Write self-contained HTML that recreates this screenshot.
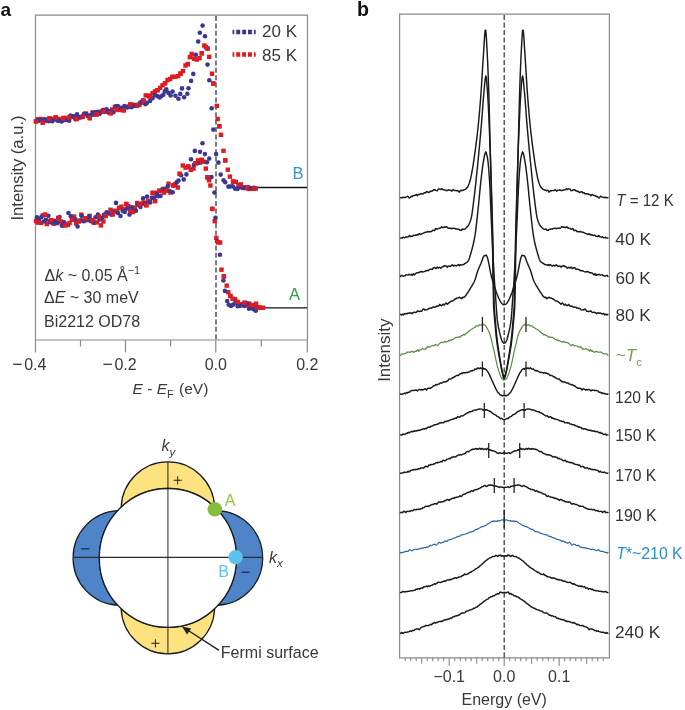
<!DOCTYPE html>
<html><head><meta charset="utf-8"><style>
html,body{margin:0;padding:0;background:#fff;}
body{width:685px;height:710px;overflow:hidden;}
svg{display:block;font-family:"Liberation Sans", sans-serif;}
</style></head><body>
<svg width="685" height="710" viewBox="0 0 685 710">
<path d="M35.5 15.2H307.5V340H35.5Z" fill="none" stroke="#8a8a8a" stroke-width="1.2"/>
<line x1="35.5" y1="340" x2="35.5" y2="352.5" stroke="#8a8a8a" stroke-width="1.2"/>
<line x1="125.5" y1="340" x2="125.5" y2="352.5" stroke="#8a8a8a" stroke-width="1.2"/>
<line x1="215.8" y1="340" x2="215.8" y2="352.5" stroke="#8a8a8a" stroke-width="1.2"/>
<line x1="307.3" y1="340" x2="307.3" y2="352.5" stroke="#8a8a8a" stroke-width="1.2"/>
<line x1="80.5" y1="340" x2="80.5" y2="346.5" stroke="#8a8a8a" stroke-width="1.2"/>
<line x1="170.6" y1="340" x2="170.6" y2="346.5" stroke="#8a8a8a" stroke-width="1.2"/>
<line x1="261.3" y1="340" x2="261.3" y2="346.5" stroke="#8a8a8a" stroke-width="1.2"/>
<line x1="216" y1="16" x2="216" y2="340" stroke="#3a3a3a" stroke-width="1.3" stroke-dasharray="5 2.4"/>
<line x1="254" y1="187.5" x2="307" y2="187.5" stroke="#111" stroke-width="1.3"/>
<line x1="262" y1="307.9" x2="307" y2="307.9" stroke="#111" stroke-width="1.3"/>
<g fill="#df1b22"><rect x="33.8" y="119.2" width="4.4" height="4.4"/><rect x="36.0" y="117.1" width="4.4" height="4.4"/><rect x="38.2" y="116.8" width="4.4" height="4.4"/><rect x="40.6" y="120.4" width="4.4" height="4.4"/><rect x="42.7" y="117.1" width="4.4" height="4.4"/><rect x="45.2" y="118.5" width="4.4" height="4.4"/><rect x="47.3" y="116.3" width="4.4" height="4.4"/><rect x="49.5" y="118.7" width="4.4" height="4.4"/><rect x="51.4" y="116.7" width="4.4" height="4.4"/><rect x="53.5" y="115.2" width="4.4" height="4.4"/><rect x="55.7" y="116.7" width="4.4" height="4.4"/><rect x="58.2" y="117.4" width="4.4" height="4.4"/><rect x="60.8" y="116.4" width="4.4" height="4.4"/><rect x="62.3" y="115.6" width="4.4" height="4.4"/><rect x="65.3" y="116.5" width="4.4" height="4.4"/><rect x="67.1" y="115.3" width="4.4" height="4.4"/><rect x="69.5" y="114.6" width="4.4" height="4.4"/><rect x="72.4" y="114.4" width="4.4" height="4.4"/><rect x="74.3" y="116.8" width="4.4" height="4.4"/><rect x="76.4" y="115.0" width="4.4" height="4.4"/><rect x="78.8" y="115.0" width="4.4" height="4.4"/><rect x="80.7" y="114.4" width="4.4" height="4.4"/><rect x="83.7" y="111.3" width="4.4" height="4.4"/><rect x="85.8" y="113.4" width="4.4" height="4.4"/><rect x="87.6" y="115.9" width="4.4" height="4.4"/><rect x="90.3" y="110.2" width="4.4" height="4.4"/><rect x="92.3" y="112.5" width="4.4" height="4.4"/><rect x="94.5" y="112.2" width="4.4" height="4.4"/><rect x="96.8" y="111.6" width="4.4" height="4.4"/><rect x="99.5" y="109.1" width="4.4" height="4.4"/><rect x="101.4" y="109.2" width="4.4" height="4.4"/><rect x="103.6" y="107.8" width="4.4" height="4.4"/><rect x="105.6" y="109.1" width="4.4" height="4.4"/><rect x="108.3" y="111.0" width="4.4" height="4.4"/><rect x="109.9" y="107.3" width="4.4" height="4.4"/><rect x="112.7" y="104.7" width="4.4" height="4.4"/><rect x="114.7" y="107.2" width="4.4" height="4.4"/><rect x="117.4" y="107.8" width="4.4" height="4.4"/><rect x="119.2" y="105.6" width="4.4" height="4.4"/><rect x="121.5" y="108.1" width="4.4" height="4.4"/><rect x="123.7" y="104.7" width="4.4" height="4.4"/><rect x="126.2" y="104.5" width="4.4" height="4.4"/><rect x="128.2" y="102.3" width="4.4" height="4.4"/><rect x="130.5" y="102.6" width="4.4" height="4.4"/><rect x="133.1" y="103.6" width="4.4" height="4.4"/><rect x="135.0" y="102.8" width="4.4" height="4.4"/><rect x="137.2" y="102.7" width="4.4" height="4.4"/><rect x="139.5" y="100.5" width="4.4" height="4.4"/><rect x="141.4" y="98.6" width="4.4" height="4.4"/><rect x="143.5" y="93.2" width="4.4" height="4.4"/><rect x="146.2" y="93.4" width="4.4" height="4.4"/><rect x="147.8" y="94.7" width="4.4" height="4.4"/><rect x="150.3" y="91.0" width="4.4" height="4.4"/><rect x="152.8" y="89.2" width="4.4" height="4.4"/><rect x="155.3" y="88.0" width="4.4" height="4.4"/><rect x="157.9" y="85.7" width="4.4" height="4.4"/><rect x="160.3" y="83.1" width="4.4" height="4.4"/><rect x="162.9" y="81.0" width="4.4" height="4.4"/><rect x="165.3" y="77.8" width="4.4" height="4.4"/><rect x="167.8" y="76.8" width="4.4" height="4.4"/><rect x="170.3" y="74.7" width="4.4" height="4.4"/><rect x="172.9" y="74.5" width="4.4" height="4.4"/><rect x="176.0" y="73.9" width="4.4" height="4.4"/><rect x="178.3" y="71.4" width="4.4" height="4.4"/><rect x="180.7" y="68.8" width="4.4" height="4.4"/><rect x="183.3" y="63.3" width="4.4" height="4.4"/><rect x="185.6" y="61.9" width="4.4" height="4.4"/><rect x="187.6" y="55.0" width="4.4" height="4.4"/><rect x="189.5" y="51.7" width="4.4" height="4.4"/><rect x="192.0" y="56.5" width="4.4" height="4.4"/><rect x="194.6" y="57.4" width="4.4" height="4.4"/><rect x="197.4" y="55.9" width="4.4" height="4.4"/><rect x="199.6" y="51.1" width="4.4" height="4.4"/><rect x="202.1" y="43.3" width="4.4" height="4.4"/><rect x="203.6" y="44.8" width="4.4" height="4.4"/><rect x="205.4" y="46.4" width="4.4" height="4.4"/><rect x="207.0" y="54.6" width="4.4" height="4.4"/><rect x="209.8" y="71.5" width="4.4" height="4.4"/><rect x="211.1" y="81.3" width="4.4" height="4.4"/><rect x="214.6" y="103.7" width="4.4" height="4.4"/><rect x="215.5" y="116.8" width="4.4" height="4.4"/><rect x="217.1" y="124.1" width="4.4" height="4.4"/><rect x="218.7" y="132.6" width="4.4" height="4.4"/><rect x="221.3" y="148.6" width="4.4" height="4.4"/><rect x="223.0" y="158.2" width="4.4" height="4.4"/><rect x="225.6" y="167.5" width="4.4" height="4.4"/><rect x="227.7" y="174.4" width="4.4" height="4.4"/><rect x="230.9" y="179.4" width="4.4" height="4.4"/><rect x="233.6" y="179.6" width="4.4" height="4.4"/><rect x="236.3" y="183.0" width="4.4" height="4.4"/><rect x="238.5" y="182.4" width="4.4" height="4.4"/><rect x="240.6" y="185.7" width="4.4" height="4.4"/><rect x="242.8" y="185.8" width="4.4" height="4.4"/><rect x="245.0" y="185.2" width="4.4" height="4.4"/><rect x="247.2" y="186.7" width="4.4" height="4.4"/><rect x="249.4" y="185.9" width="4.4" height="4.4"/><rect x="251.6" y="186.5" width="4.4" height="4.4"/><rect x="253.6" y="186.3" width="4.4" height="4.4"/><rect x="33.8" y="219.0" width="4.4" height="4.4"/><rect x="36.0" y="220.2" width="4.4" height="4.4"/><rect x="38.9" y="220.6" width="4.4" height="4.4"/><rect x="40.6" y="213.2" width="4.4" height="4.4"/><rect x="42.9" y="212.5" width="4.4" height="4.4"/><rect x="44.6" y="221.9" width="4.4" height="4.4"/><rect x="47.5" y="218.7" width="4.4" height="4.4"/><rect x="49.0" y="218.1" width="4.4" height="4.4"/><rect x="51.6" y="221.5" width="4.4" height="4.4"/><rect x="54.7" y="220.3" width="4.4" height="4.4"/><rect x="56.1" y="215.8" width="4.4" height="4.4"/><rect x="58.5" y="219.2" width="4.4" height="4.4"/><rect x="60.5" y="220.0" width="4.4" height="4.4"/><rect x="62.7" y="223.1" width="4.4" height="4.4"/><rect x="65.6" y="222.8" width="4.4" height="4.4"/><rect x="67.4" y="220.8" width="4.4" height="4.4"/><rect x="69.8" y="217.6" width="4.4" height="4.4"/><rect x="71.9" y="214.4" width="4.4" height="4.4"/><rect x="73.9" y="221.2" width="4.4" height="4.4"/><rect x="76.5" y="219.1" width="4.4" height="4.4"/><rect x="79.1" y="212.4" width="4.4" height="4.4"/><rect x="80.8" y="218.4" width="4.4" height="4.4"/><rect x="83.4" y="216.2" width="4.4" height="4.4"/><rect x="85.9" y="217.8" width="4.4" height="4.4"/><rect x="87.4" y="213.7" width="4.4" height="4.4"/><rect x="90.3" y="218.0" width="4.4" height="4.4"/><rect x="91.7" y="220.6" width="4.4" height="4.4"/><rect x="94.7" y="220.2" width="4.4" height="4.4"/><rect x="96.7" y="214.5" width="4.4" height="4.4"/><rect x="98.7" y="223.2" width="4.4" height="4.4"/><rect x="101.2" y="219.3" width="4.4" height="4.4"/><rect x="103.4" y="213.8" width="4.4" height="4.4"/><rect x="105.3" y="211.2" width="4.4" height="4.4"/><rect x="108.3" y="207.6" width="4.4" height="4.4"/><rect x="110.6" y="212.0" width="4.4" height="4.4"/><rect x="112.2" y="208.5" width="4.4" height="4.4"/><rect x="114.7" y="209.2" width="4.4" height="4.4"/><rect x="116.9" y="205.8" width="4.4" height="4.4"/><rect x="119.2" y="204.5" width="4.4" height="4.4"/><rect x="121.2" y="207.2" width="4.4" height="4.4"/><rect x="124.1" y="201.8" width="4.4" height="4.4"/><rect x="126.1" y="204.1" width="4.4" height="4.4"/><rect x="128.0" y="208.4" width="4.4" height="4.4"/><rect x="130.4" y="209.8" width="4.4" height="4.4"/><rect x="132.6" y="205.3" width="4.4" height="4.4"/><rect x="135.0" y="200.8" width="4.4" height="4.4"/><rect x="137.5" y="202.0" width="4.4" height="4.4"/><rect x="139.7" y="201.4" width="4.4" height="4.4"/><rect x="141.5" y="200.4" width="4.4" height="4.4"/><rect x="144.1" y="203.0" width="4.4" height="4.4"/><rect x="146.0" y="198.8" width="4.4" height="4.4"/><rect x="148.0" y="200.0" width="4.4" height="4.4"/><rect x="150.5" y="190.7" width="4.4" height="4.4"/><rect x="153.0" y="199.0" width="4.4" height="4.4"/><rect x="154.8" y="190.5" width="4.4" height="4.4"/><rect x="157.3" y="188.6" width="4.4" height="4.4"/><rect x="159.9" y="187.7" width="4.4" height="4.4"/><rect x="161.8" y="190.4" width="4.4" height="4.4"/><rect x="164.1" y="188.3" width="4.4" height="4.4"/><rect x="166.3" y="181.5" width="4.4" height="4.4"/><rect x="168.2" y="190.3" width="4.4" height="4.4"/><rect x="171.0" y="183.4" width="4.4" height="4.4"/><rect x="173.3" y="181.7" width="4.4" height="4.4"/><rect x="175.6" y="185.3" width="4.4" height="4.4"/><rect x="177.5" y="171.7" width="4.4" height="4.4"/><rect x="180.6" y="163.3" width="4.4" height="4.4"/><rect x="183.3" y="165.4" width="4.4" height="4.4"/><rect x="186.0" y="164.4" width="4.4" height="4.4"/><rect x="188.5" y="167.7" width="4.4" height="4.4"/><rect x="191.3" y="166.4" width="4.4" height="4.4"/><rect x="193.2" y="161.0" width="4.4" height="4.4"/><rect x="195.8" y="158.2" width="4.4" height="4.4"/><rect x="197.8" y="160.4" width="4.4" height="4.4"/><rect x="199.6" y="157.7" width="4.4" height="4.4"/><rect x="201.8" y="159.5" width="4.4" height="4.4"/><rect x="203.6" y="166.4" width="4.4" height="4.4"/><rect x="205.2" y="175.1" width="4.4" height="4.4"/><rect x="206.8" y="178.1" width="4.4" height="4.4"/><rect x="208.2" y="183.3" width="4.4" height="4.4"/><rect x="210.1" y="206.7" width="4.4" height="4.4"/><rect x="212.5" y="219.0" width="4.4" height="4.4"/><rect x="214.1" y="235.7" width="4.4" height="4.4"/><rect x="215.9" y="240.0" width="4.4" height="4.4"/><rect x="218.0" y="240.3" width="4.4" height="4.4"/><rect x="219.3" y="267.5" width="4.4" height="4.4"/><rect x="221.7" y="274.2" width="4.4" height="4.4"/><rect x="224.5" y="283.4" width="4.4" height="4.4"/><rect x="226.1" y="290.0" width="4.4" height="4.4"/><rect x="228.2" y="293.8" width="4.4" height="4.4"/><rect x="230.4" y="296.6" width="4.4" height="4.4"/><rect x="232.9" y="297.1" width="4.4" height="4.4"/><rect x="235.3" y="299.8" width="4.4" height="4.4"/><rect x="237.7" y="301.9" width="4.4" height="4.4"/><rect x="240.1" y="302.2" width="4.4" height="4.4"/><rect x="242.4" y="300.6" width="4.4" height="4.4"/><rect x="244.7" y="303.1" width="4.4" height="4.4"/><rect x="247.0" y="301.4" width="4.4" height="4.4"/><rect x="249.3" y="302.9" width="4.4" height="4.4"/><rect x="251.6" y="303.8" width="4.4" height="4.4"/><rect x="253.9" y="301.5" width="4.4" height="4.4"/><rect x="256.2" y="305.1" width="4.4" height="4.4"/><rect x="258.5" y="305.6" width="4.4" height="4.4"/><rect x="260.8" y="305.6" width="4.4" height="4.4"/></g>
<g fill="#3b3793"><circle cx="37.4" cy="120.0" r="2.3"/><circle cx="39.3" cy="120.6" r="2.3"/><circle cx="41.4" cy="119.7" r="2.3"/><circle cx="43.9" cy="119.9" r="2.3"/><circle cx="46.0" cy="120.2" r="2.3"/><circle cx="48.6" cy="121.1" r="2.3"/><circle cx="50.6" cy="119.0" r="2.3"/><circle cx="52.3" cy="121.2" r="2.3"/><circle cx="55.3" cy="119.3" r="2.3"/><circle cx="57.4" cy="120.6" r="2.3"/><circle cx="59.7" cy="120.7" r="2.3"/><circle cx="61.6" cy="121.5" r="2.3"/><circle cx="63.6" cy="120.2" r="2.3"/><circle cx="66.4" cy="120.0" r="2.3"/><circle cx="69.1" cy="120.8" r="2.3"/><circle cx="70.4" cy="115.5" r="2.3"/><circle cx="73.2" cy="116.3" r="2.3"/><circle cx="75.2" cy="119.1" r="2.3"/><circle cx="77.0" cy="114.2" r="2.3"/><circle cx="79.8" cy="117.4" r="2.3"/><circle cx="81.9" cy="116.9" r="2.3"/><circle cx="84.0" cy="113.9" r="2.3"/><circle cx="86.5" cy="114.2" r="2.3"/><circle cx="88.3" cy="116.0" r="2.3"/><circle cx="91.0" cy="115.3" r="2.3"/><circle cx="93.0" cy="113.1" r="2.3"/><circle cx="95.2" cy="112.2" r="2.3"/><circle cx="97.8" cy="111.8" r="2.3"/><circle cx="100.1" cy="113.0" r="2.3"/><circle cx="102.9" cy="110.0" r="2.3"/><circle cx="104.8" cy="111.9" r="2.3"/><circle cx="106.7" cy="109.4" r="2.3"/><circle cx="108.9" cy="112.7" r="2.3"/><circle cx="111.2" cy="111.2" r="2.3"/><circle cx="113.4" cy="112.3" r="2.3"/><circle cx="115.7" cy="106.3" r="2.3"/><circle cx="117.8" cy="106.1" r="2.3"/><circle cx="119.3" cy="107.8" r="2.3"/><circle cx="122.9" cy="108.2" r="2.3"/><circle cx="124.4" cy="106.1" r="2.3"/><circle cx="127.3" cy="107.4" r="2.3"/><circle cx="129.3" cy="106.6" r="2.3"/><circle cx="131.5" cy="107.3" r="2.3"/><circle cx="133.9" cy="105.5" r="2.3"/><circle cx="135.7" cy="105.2" r="2.3"/><circle cx="138.0" cy="105.4" r="2.3"/><circle cx="140.1" cy="102.7" r="2.3"/><circle cx="142.7" cy="100.3" r="2.3"/><circle cx="145.5" cy="104.3" r="2.3"/><circle cx="147.1" cy="102.8" r="2.3"/><circle cx="149.6" cy="96.9" r="2.3"/><circle cx="150.1" cy="101.0" r="2.3"/><circle cx="152.5" cy="98.2" r="2.3"/><circle cx="154.8" cy="95.1" r="2.3"/><circle cx="157.2" cy="96.1" r="2.3"/><circle cx="159.6" cy="97.5" r="2.3"/><circle cx="161.2" cy="96.2" r="2.3"/><circle cx="163.3" cy="94.8" r="2.3"/><circle cx="164.8" cy="91.4" r="2.3"/><circle cx="166.3" cy="89.2" r="2.3"/><circle cx="168.6" cy="92.9" r="2.3"/><circle cx="170.6" cy="95.5" r="2.3"/><circle cx="172.6" cy="91.6" r="2.3"/><circle cx="175.4" cy="95.8" r="2.3"/><circle cx="178.4" cy="98.7" r="2.3"/><circle cx="180.2" cy="93.9" r="2.3"/><circle cx="182.0" cy="88.4" r="2.3"/><circle cx="184.1" cy="97.2" r="2.3"/><circle cx="187.3" cy="93.7" r="2.3"/><circle cx="188.5" cy="88.2" r="2.3"/><circle cx="191.1" cy="80.9" r="2.3"/><circle cx="193.3" cy="73.9" r="2.3"/><circle cx="195.9" cy="54.7" r="2.3"/><circle cx="198.2" cy="41.5" r="2.3"/><circle cx="199.8" cy="32.8" r="2.3"/><circle cx="202.6" cy="25.6" r="2.3"/><circle cx="205.0" cy="36.3" r="2.3"/><circle cx="207.5" cy="64.6" r="2.3"/><circle cx="209.3" cy="80.2" r="2.3"/><circle cx="211.7" cy="108.3" r="2.3"/><circle cx="213.3" cy="129.6" r="2.3"/><circle cx="216.1" cy="154.1" r="2.3"/><circle cx="218.4" cy="162.6" r="2.3"/><circle cx="220.7" cy="174.6" r="2.3"/><circle cx="223.6" cy="180.3" r="2.3"/><circle cx="225.2" cy="182.2" r="2.3"/><circle cx="228.4" cy="186.6" r="2.3"/><circle cx="230.3" cy="186.5" r="2.3"/><circle cx="232.7" cy="186.2" r="2.3"/><circle cx="235.0" cy="188.6" r="2.3"/><circle cx="237.4" cy="189.0" r="2.3"/><circle cx="239.8" cy="187.1" r="2.3"/><circle cx="242.1" cy="187.1" r="2.3"/><circle cx="244.5" cy="187.5" r="2.3"/><circle cx="246.9" cy="188.3" r="2.3"/><circle cx="249.2" cy="187.8" r="2.3"/><circle cx="251.6" cy="188.2" r="2.3"/><circle cx="254.1" cy="187.9" r="2.3"/><circle cx="36.9" cy="217.4" r="2.3"/><circle cx="39.2" cy="218.9" r="2.3"/><circle cx="41.5" cy="216.9" r="2.3"/><circle cx="43.8" cy="221.5" r="2.3"/><circle cx="46.0" cy="219.7" r="2.3"/><circle cx="48.4" cy="215.8" r="2.3"/><circle cx="50.6" cy="222.2" r="2.3"/><circle cx="52.8" cy="222.8" r="2.3"/><circle cx="54.8" cy="220.8" r="2.3"/><circle cx="57.4" cy="223.3" r="2.3"/><circle cx="59.6" cy="217.0" r="2.3"/><circle cx="61.9" cy="225.7" r="2.3"/><circle cx="64.3" cy="222.5" r="2.3"/><circle cx="65.8" cy="224.6" r="2.3"/><circle cx="68.5" cy="213.0" r="2.3"/><circle cx="70.9" cy="216.3" r="2.3"/><circle cx="72.6" cy="218.9" r="2.3"/><circle cx="75.6" cy="219.6" r="2.3"/><circle cx="77.6" cy="226.5" r="2.3"/><circle cx="80.2" cy="220.2" r="2.3"/><circle cx="81.9" cy="216.0" r="2.3"/><circle cx="84.0" cy="221.3" r="2.3"/><circle cx="86.6" cy="219.9" r="2.3"/><circle cx="89.0" cy="216.6" r="2.3"/><circle cx="91.0" cy="221.3" r="2.3"/><circle cx="93.4" cy="222.0" r="2.3"/><circle cx="95.6" cy="217.2" r="2.3"/><circle cx="97.9" cy="214.5" r="2.3"/><circle cx="99.5" cy="219.4" r="2.3"/><circle cx="102.2" cy="217.7" r="2.3"/><circle cx="104.0" cy="214.7" r="2.3"/><circle cx="106.6" cy="212.3" r="2.3"/><circle cx="108.3" cy="213.2" r="2.3"/><circle cx="111.5" cy="214.8" r="2.3"/><circle cx="113.3" cy="212.7" r="2.3"/><circle cx="116.0" cy="202.9" r="2.3"/><circle cx="118.0" cy="213.0" r="2.3"/><circle cx="120.5" cy="216.0" r="2.3"/><circle cx="122.8" cy="210.9" r="2.3"/><circle cx="124.8" cy="211.9" r="2.3"/><circle cx="126.8" cy="208.6" r="2.3"/><circle cx="129.5" cy="214.6" r="2.3"/><circle cx="131.5" cy="207.3" r="2.3"/><circle cx="133.8" cy="211.1" r="2.3"/><circle cx="136.0" cy="210.7" r="2.3"/><circle cx="138.0" cy="204.5" r="2.3"/><circle cx="140.4" cy="206.9" r="2.3"/><circle cx="143.1" cy="198.4" r="2.3"/><circle cx="144.7" cy="203.6" r="2.3"/><circle cx="147.1" cy="196.6" r="2.3"/><circle cx="149.8" cy="202.3" r="2.3"/><circle cx="151.9" cy="197.9" r="2.3"/><circle cx="154.3" cy="197.5" r="2.3"/><circle cx="156.6" cy="194.0" r="2.3"/><circle cx="158.2" cy="196.2" r="2.3"/><circle cx="160.5" cy="195.9" r="2.3"/><circle cx="163.1" cy="188.7" r="2.3"/><circle cx="165.3" cy="188.7" r="2.3"/><circle cx="167.8" cy="186.4" r="2.3"/><circle cx="169.6" cy="191.1" r="2.3"/><circle cx="172.7" cy="192.3" r="2.3"/><circle cx="174.3" cy="184.9" r="2.3"/><circle cx="177.0" cy="182.1" r="2.3"/><circle cx="178.5" cy="180.6" r="2.3"/><circle cx="181.1" cy="175.3" r="2.3"/><circle cx="183.7" cy="179.4" r="2.3"/><circle cx="186.4" cy="174.4" r="2.3"/><circle cx="188.6" cy="166.7" r="2.3"/><circle cx="191.0" cy="159.2" r="2.3"/><circle cx="193.9" cy="164.9" r="2.3"/><circle cx="194.8" cy="150.9" r="2.3"/><circle cx="197.8" cy="163.2" r="2.3"/><circle cx="200.0" cy="151.7" r="2.3"/><circle cx="202.5" cy="143.2" r="2.3"/><circle cx="204.9" cy="154.1" r="2.3"/><circle cx="206.9" cy="162.3" r="2.3"/><circle cx="209.2" cy="158.6" r="2.3"/><circle cx="211.5" cy="177.0" r="2.3"/><circle cx="214.5" cy="192.6" r="2.3"/><circle cx="215.5" cy="217.7" r="2.3"/><circle cx="217.2" cy="241.2" r="2.3"/><circle cx="219.9" cy="254.8" r="2.3"/><circle cx="223.4" cy="280.5" r="2.3"/><circle cx="224.9" cy="290.9" r="2.3"/><circle cx="227.2" cy="301.0" r="2.3"/><circle cx="228.7" cy="304.8" r="2.3"/><circle cx="231.0" cy="305.9" r="2.3"/><circle cx="233.2" cy="304.6" r="2.3"/><circle cx="235.5" cy="302.9" r="2.3"/><circle cx="237.7" cy="306.3" r="2.3"/><circle cx="239.9" cy="305.9" r="2.3"/><circle cx="242.2" cy="305.3" r="2.3"/><circle cx="244.5" cy="306.0" r="2.3"/><circle cx="246.8" cy="303.3" r="2.3"/><circle cx="249.0" cy="308.8" r="2.3"/><circle cx="251.2" cy="307.6" r="2.3"/><circle cx="253.5" cy="309.2" r="2.3"/><circle cx="255.8" cy="310.7" r="2.3"/><circle cx="258.0" cy="307.3" r="2.3"/></g>
<g fill="#df1b22"><rect x="33.8" y="119.2" width="4.4" height="4.4"/><rect x="40.6" y="120.4" width="4.4" height="4.4"/><rect x="47.3" y="116.3" width="4.4" height="4.4"/><rect x="53.5" y="115.2" width="4.4" height="4.4"/><rect x="60.8" y="116.4" width="4.4" height="4.4"/><rect x="67.1" y="115.3" width="4.4" height="4.4"/><rect x="74.3" y="116.8" width="4.4" height="4.4"/><rect x="80.7" y="114.4" width="4.4" height="4.4"/><rect x="87.6" y="115.9" width="4.4" height="4.4"/><rect x="94.5" y="112.2" width="4.4" height="4.4"/><rect x="101.4" y="109.2" width="4.4" height="4.4"/><rect x="108.3" y="111.0" width="4.4" height="4.4"/><rect x="114.7" y="107.2" width="4.4" height="4.4"/><rect x="121.5" y="108.1" width="4.4" height="4.4"/><rect x="128.2" y="102.3" width="4.4" height="4.4"/><rect x="135.0" y="102.8" width="4.4" height="4.4"/><rect x="141.4" y="98.6" width="4.4" height="4.4"/><rect x="147.8" y="94.7" width="4.4" height="4.4"/><rect x="155.3" y="88.0" width="4.4" height="4.4"/><rect x="162.9" y="81.0" width="4.4" height="4.4"/><rect x="170.3" y="74.7" width="4.4" height="4.4"/><rect x="178.3" y="71.4" width="4.4" height="4.4"/><rect x="185.6" y="61.9" width="4.4" height="4.4"/><rect x="192.0" y="56.5" width="4.4" height="4.4"/><rect x="199.6" y="51.1" width="4.4" height="4.4"/><rect x="205.4" y="46.4" width="4.4" height="4.4"/><rect x="211.1" y="81.3" width="4.4" height="4.4"/><rect x="217.1" y="124.1" width="4.4" height="4.4"/><rect x="223.0" y="158.2" width="4.4" height="4.4"/><rect x="230.9" y="179.4" width="4.4" height="4.4"/><rect x="238.5" y="182.4" width="4.4" height="4.4"/><rect x="245.0" y="185.2" width="4.4" height="4.4"/><rect x="251.6" y="186.5" width="4.4" height="4.4"/><rect x="36.0" y="220.2" width="4.4" height="4.4"/><rect x="42.9" y="212.5" width="4.4" height="4.4"/><rect x="49.0" y="218.1" width="4.4" height="4.4"/><rect x="56.1" y="215.8" width="4.4" height="4.4"/><rect x="62.7" y="223.1" width="4.4" height="4.4"/><rect x="69.8" y="217.6" width="4.4" height="4.4"/><rect x="76.5" y="219.1" width="4.4" height="4.4"/><rect x="83.4" y="216.2" width="4.4" height="4.4"/><rect x="90.3" y="218.0" width="4.4" height="4.4"/><rect x="96.7" y="214.5" width="4.4" height="4.4"/><rect x="103.4" y="213.8" width="4.4" height="4.4"/><rect x="110.6" y="212.0" width="4.4" height="4.4"/><rect x="116.9" y="205.8" width="4.4" height="4.4"/><rect x="124.1" y="201.8" width="4.4" height="4.4"/><rect x="130.4" y="209.8" width="4.4" height="4.4"/><rect x="137.5" y="202.0" width="4.4" height="4.4"/><rect x="144.1" y="203.0" width="4.4" height="4.4"/><rect x="150.5" y="190.7" width="4.4" height="4.4"/><rect x="157.3" y="188.6" width="4.4" height="4.4"/><rect x="164.1" y="188.3" width="4.4" height="4.4"/><rect x="171.0" y="183.4" width="4.4" height="4.4"/><rect x="177.5" y="171.7" width="4.4" height="4.4"/><rect x="186.0" y="164.4" width="4.4" height="4.4"/><rect x="193.2" y="161.0" width="4.4" height="4.4"/><rect x="199.6" y="157.7" width="4.4" height="4.4"/><rect x="205.2" y="175.1" width="4.4" height="4.4"/><rect x="210.1" y="206.7" width="4.4" height="4.4"/><rect x="215.9" y="240.0" width="4.4" height="4.4"/><rect x="221.7" y="274.2" width="4.4" height="4.4"/><rect x="228.2" y="293.8" width="4.4" height="4.4"/><rect x="235.3" y="299.8" width="4.4" height="4.4"/><rect x="242.4" y="300.6" width="4.4" height="4.4"/><rect x="249.3" y="302.9" width="4.4" height="4.4"/><rect x="256.2" y="305.1" width="4.4" height="4.4"/></g>
<line x1="232.5" y1="32" x2="256" y2="32" stroke="#3b3793" stroke-width="4.6" stroke-dasharray="1.8 1.9 4 1.9 4 1.9 4 1.9"/>
<line x1="232.5" y1="54.5" x2="256" y2="54.5" stroke="#df1b22" stroke-width="4.6" stroke-dasharray="1.8 1.9 4 1.9 4 1.9 4 1.9"/>
<text x="262" y="36.8" font-size="17" fill="#383838">20 K</text>
<text x="262" y="60.9" font-size="17" fill="#383838">85 K</text>
<text x="292.5" y="179.3" font-size="16.5" fill="#3c8fd0">B</text>
<text x="289" y="299.8" font-size="16.5" fill="#2f9e48">A</text>
<text x="44.5" y="280.8" font-size="16" fill="#383838">Δ<tspan font-style="italic">k</tspan> ~ 0.05 Å<tspan font-size="11" dy="-7">−1</tspan></text>
<text x="44" y="302.7" font-size="16" fill="#383838">Δ<tspan font-style="italic">E</tspan> ~ 30 meV</text>
<text x="44" y="326.5" font-size="16" fill="#383838">Bi2212 OD78</text>
<text x="35.3" y="370" font-size="16" fill="#383838" text-anchor="middle">0.4</text>
<line x1="13.2" y1="364.3" x2="21.7" y2="364.3" stroke="#383838" stroke-width="1.3"/>
<text x="125.5" y="370" font-size="16" fill="#383838" text-anchor="middle">0.2</text>
<line x1="103.4" y1="364.3" x2="111.9" y2="364.3" stroke="#383838" stroke-width="1.3"/>
<text x="215.8" y="370" font-size="16" fill="#383838" text-anchor="middle">0.0</text>
<text x="307.3" y="370" font-size="16" fill="#383838" text-anchor="middle">0.2</text>
<text x="132.5" y="394.1" font-size="15.5" fill="#383838"><tspan font-style="italic">E</tspan> - <tspan font-style="italic">E</tspan><tspan font-size="11" dy="4">F</tspan><tspan dy="-4" dx="1"> (eV)</tspan></text>
<text transform="translate(22.8 168) rotate(-90)" font-size="16.6" fill="#383838" text-anchor="middle">Intensity (a.u.)</text>
<text x="0.5" y="16" font-size="19" font-weight="bold" fill="#111">a</text>
<text x="357" y="16.2" font-size="19.6" font-weight="bold" fill="#111">b</text>
<g transform="translate(167.9 557.9) scale(0.988 1) translate(-167.9 -557.9)">
<path d="M215.23 507.14A47.38 47.38 0 0 0 120.57 507.14A69.40 69.40 0 0 1 215.23 507.14Z" fill="#fde37f" stroke="#1b1d24" stroke-width="1.3"/>
<path d="M120.57 608.66A47.38 47.38 0 0 0 215.23 608.66A69.40 69.40 0 0 1 120.57 608.66Z" fill="#fde37f" stroke="#1b1d24" stroke-width="1.3"/>
<path d="M117.14 510.57A47.38 47.38 0 0 0 117.14 605.23A69.40 69.40 0 0 1 117.14 510.57Z" fill="#4f84c9" stroke="#1b1d24" stroke-width="1.3"/>
<path d="M218.66 605.23A47.38 47.38 0 0 0 218.66 510.57A69.40 69.40 0 0 1 218.66 605.23Z" fill="#4f84c9" stroke="#1b1d24" stroke-width="1.3"/>
<circle cx="167.9" cy="557.9" r="69.4" fill="#fff" stroke="#1b1d24" stroke-width="1.3"/>
<line x1="167.9" y1="462.0" x2="167.9" y2="653.8" stroke="#626262" stroke-width="1.4" style="mix-blend-mode:multiply"/>
<line x1="72.0" y1="557.4" x2="263.8" y2="557.4" stroke="#2a2a2a" stroke-width="1.3"/>
</g>
<circle cx="214.8" cy="509.3" r="7.3" fill="#86bd3a"/>
<circle cx="235.6" cy="557.2" r="7.2" fill="#5cc3ee"/>
<text x="224.8" y="506.3" font-size="16" fill="#8cc43f">A</text>
<text x="218.2" y="576.6" font-size="16" fill="#5cc3ee">B</text>
<text x="161.5" y="451" font-size="16" font-style="italic" fill="#383838">k<tspan font-size="11.5" dy="4.5">y</tspan></text>
<text x="269" y="562.8" font-size="16" font-style="italic" fill="#383838">k<tspan font-size="11.5" dy="4.5">x</tspan></text>
<path d="M173.6 480.3H181.79999999999998M177.7 476.2V484.40000000000003" stroke="#222" stroke-width="1.05"/>
<path d="M151.3 643.3H159.5M155.4 639.1999999999999V647.4" stroke="#222" stroke-width="1.05"/>
<line x1="81" y1="548.8" x2="89.5" y2="548.8" stroke="#1c2f5a" stroke-width="1.3"/>
<line x1="241.5" y1="572.2" x2="249.5" y2="572.2" stroke="#1c2f5a" stroke-width="1.3"/>
<line x1="219" y1="650.3" x2="186" y2="629" stroke="#222" stroke-width="1.4"/>
<path d="M182 626.5L191.2 628.4L187 634.6Z" fill="#222"/>
<text x="220.8" y="657.8" font-size="16" fill="#383838">Fermi surface</text>
<path d="M399.6 14.2H609.4V657.8H399.6Z" fill="none" stroke="#8a8a8a" stroke-width="1.2"/>
<line x1="405.20" y1="657.8" x2="405.20" y2="661.3" stroke="#8a8a8a" stroke-width="1.1"/>
<line x1="410.70" y1="657.8" x2="410.70" y2="661.3" stroke="#8a8a8a" stroke-width="1.1"/>
<line x1="416.20" y1="657.8" x2="416.20" y2="661.3" stroke="#8a8a8a" stroke-width="1.1"/>
<line x1="421.70" y1="657.8" x2="421.70" y2="663.8" stroke="#8a8a8a" stroke-width="1.1"/>
<line x1="427.20" y1="657.8" x2="427.20" y2="661.3" stroke="#8a8a8a" stroke-width="1.1"/>
<line x1="432.70" y1="657.8" x2="432.70" y2="661.3" stroke="#8a8a8a" stroke-width="1.1"/>
<line x1="438.20" y1="657.8" x2="438.20" y2="661.3" stroke="#8a8a8a" stroke-width="1.1"/>
<line x1="443.70" y1="657.8" x2="443.70" y2="661.3" stroke="#8a8a8a" stroke-width="1.1"/>
<line x1="449.20" y1="657.8" x2="449.20" y2="666.0999999999999" stroke="#8a8a8a" stroke-width="1.1"/>
<line x1="454.70" y1="657.8" x2="454.70" y2="661.3" stroke="#8a8a8a" stroke-width="1.1"/>
<line x1="460.20" y1="657.8" x2="460.20" y2="661.3" stroke="#8a8a8a" stroke-width="1.1"/>
<line x1="465.70" y1="657.8" x2="465.70" y2="661.3" stroke="#8a8a8a" stroke-width="1.1"/>
<line x1="471.20" y1="657.8" x2="471.20" y2="661.3" stroke="#8a8a8a" stroke-width="1.1"/>
<line x1="476.70" y1="657.8" x2="476.70" y2="663.8" stroke="#8a8a8a" stroke-width="1.1"/>
<line x1="482.20" y1="657.8" x2="482.20" y2="661.3" stroke="#8a8a8a" stroke-width="1.1"/>
<line x1="487.70" y1="657.8" x2="487.70" y2="661.3" stroke="#8a8a8a" stroke-width="1.1"/>
<line x1="493.20" y1="657.8" x2="493.20" y2="661.3" stroke="#8a8a8a" stroke-width="1.1"/>
<line x1="498.70" y1="657.8" x2="498.70" y2="661.3" stroke="#8a8a8a" stroke-width="1.1"/>
<line x1="504.20" y1="657.8" x2="504.20" y2="666.0999999999999" stroke="#8a8a8a" stroke-width="1.1"/>
<line x1="509.70" y1="657.8" x2="509.70" y2="661.3" stroke="#8a8a8a" stroke-width="1.1"/>
<line x1="515.20" y1="657.8" x2="515.20" y2="661.3" stroke="#8a8a8a" stroke-width="1.1"/>
<line x1="520.70" y1="657.8" x2="520.70" y2="661.3" stroke="#8a8a8a" stroke-width="1.1"/>
<line x1="526.20" y1="657.8" x2="526.20" y2="661.3" stroke="#8a8a8a" stroke-width="1.1"/>
<line x1="531.70" y1="657.8" x2="531.70" y2="663.8" stroke="#8a8a8a" stroke-width="1.1"/>
<line x1="537.20" y1="657.8" x2="537.20" y2="661.3" stroke="#8a8a8a" stroke-width="1.1"/>
<line x1="542.70" y1="657.8" x2="542.70" y2="661.3" stroke="#8a8a8a" stroke-width="1.1"/>
<line x1="548.20" y1="657.8" x2="548.20" y2="661.3" stroke="#8a8a8a" stroke-width="1.1"/>
<line x1="553.70" y1="657.8" x2="553.70" y2="661.3" stroke="#8a8a8a" stroke-width="1.1"/>
<line x1="559.20" y1="657.8" x2="559.20" y2="666.0999999999999" stroke="#8a8a8a" stroke-width="1.1"/>
<line x1="564.70" y1="657.8" x2="564.70" y2="661.3" stroke="#8a8a8a" stroke-width="1.1"/>
<line x1="570.20" y1="657.8" x2="570.20" y2="661.3" stroke="#8a8a8a" stroke-width="1.1"/>
<line x1="575.70" y1="657.8" x2="575.70" y2="661.3" stroke="#8a8a8a" stroke-width="1.1"/>
<line x1="581.20" y1="657.8" x2="581.20" y2="661.3" stroke="#8a8a8a" stroke-width="1.1"/>
<line x1="586.70" y1="657.8" x2="586.70" y2="663.8" stroke="#8a8a8a" stroke-width="1.1"/>
<line x1="592.20" y1="657.8" x2="592.20" y2="661.3" stroke="#8a8a8a" stroke-width="1.1"/>
<line x1="597.70" y1="657.8" x2="597.70" y2="661.3" stroke="#8a8a8a" stroke-width="1.1"/>
<line x1="603.20" y1="657.8" x2="603.20" y2="661.3" stroke="#8a8a8a" stroke-width="1.1"/>
<line x1="504.2" y1="15" x2="504.2" y2="658" stroke="#333" stroke-width="1.25" stroke-dasharray="5 2.5"/>
<text x="449.2" y="682.3" font-size="16" fill="#383838" text-anchor="middle">−0.1</text>
<text x="504.2" y="682.3" font-size="16" fill="#383838" text-anchor="middle">0.0</text>
<text x="559.2" y="682.3" font-size="16" fill="#383838" text-anchor="middle">0.1</text>
<text x="504.2" y="704.7" font-size="16" fill="#383838" text-anchor="middle">Energy (eV)</text>
<text transform="translate(390.3 350.2) rotate(-90)" font-size="17" fill="#383838" text-anchor="middle">Intensity</text>
<path d="M400.00 197.92 L400.60 197.64 L401.20 197.89 L401.80 197.83 L402.40 197.22 L403.00 197.57 L403.60 197.25 L404.20 197.60 L404.80 197.54 L405.40 197.30 L406.00 197.19 L406.60 196.89 L407.20 196.51 L407.80 196.14 L408.40 196.87 L409.00 197.83 L409.60 197.94 L410.20 197.45 L410.80 196.75 L411.40 196.23 L412.00 196.61 L412.60 196.12 L413.20 195.73 L413.80 195.56 L414.40 195.48 L415.00 195.22 L415.60 195.01 L416.20 194.59 L416.80 194.98 L417.40 195.72 L418.00 194.92 L418.60 194.46 L419.20 194.63 L419.80 194.39 L420.40 193.62 L421.00 193.73 L421.60 194.08 L422.20 193.78 L422.80 193.67 L423.40 193.77 L424.00 192.98 L424.60 192.75 L425.20 192.73 L425.80 192.86 L426.40 191.70 L427.00 191.63 L427.60 191.91 L428.20 192.31 L428.80 192.45 L429.40 192.23 L430.00 191.26 L430.60 191.56 L431.20 191.26 L431.80 190.98 L432.40 191.11 L433.00 190.34 L433.60 189.74 L434.20 190.02 L434.80 189.76 L435.40 189.99 L436.00 190.44 L436.60 190.64 L437.20 190.83 L437.80 189.91 L438.40 189.05 L439.00 189.09 L439.60 189.01 L440.20 189.03 L440.80 189.56 L441.40 189.04 L442.00 188.62 L442.60 189.60 L443.20 189.74 L443.80 189.84 L444.40 189.93 L445.00 190.12 L445.60 190.19 L446.20 190.61 L446.80 190.51 L447.40 190.47 L448.00 190.28 L448.60 189.71 L449.20 190.09 L449.80 190.39 L450.40 190.40 L451.00 190.24 L451.60 191.23 L452.20 190.78 L452.80 189.83 L453.40 189.63 L454.00 190.31 L454.60 190.56 L455.20 190.44 L455.80 190.64 L456.40 190.63 L457.00 190.90 L457.60 190.60 L458.20 190.91 L458.80 191.81 L459.40 192.19 L460.00 190.75 L460.60 190.35 L461.20 190.49 L461.80 190.83 L462.40 190.21 L463.00 190.18 L463.60 190.21 L464.20 189.74 L464.80 189.58 L465.40 189.32 L466.00 188.66 L466.60 188.18 L467.20 187.58 L467.80 186.72 L468.40 185.52 L469.00 184.02 L469.60 182.27 L470.20 180.31 L470.80 177.81 L471.40 174.86 L472.00 171.65 L472.60 168.29 L473.20 164.58 L473.80 160.57 L474.40 156.42 L475.00 152.17 L475.60 147.78 L476.20 143.19 L476.80 138.36 L477.40 133.22 L478.00 127.72 L478.60 121.78 L479.20 115.37 L479.80 108.49 L480.40 101.15 L481.00 93.27 L481.60 84.11 L482.20 74.13 L482.80 64.21 L483.40 55.20 L484.00 45.83 L484.60 36.40 L485.20 30.13 L485.80 30.34 L486.40 37.95 L487.00 49.25 L487.60 61.01 L488.20 75.63 L488.80 93.15 L489.40 115.59 L490.00 140.00 L490.60 163.70 L491.20 187.80 L491.80 211.46 L492.40 234.75 L493.00 277.31 L493.60 306.73 L494.20 314.74 L494.80 321.22 L495.40 328.25 L496.00 334.61 L496.60 340.00 L497.20 344.52 L497.80 348.55 L498.40 352.20 L499.00 355.61 L499.60 358.91 L500.20 362.21 L500.80 365.48 L501.40 368.52 L502.00 371.09 L502.60 373.09 L503.20 374.80 L503.80 376.15 L505.20 374.80 L505.80 373.09 L506.40 371.09 L507.00 368.52 L507.60 365.48 L508.20 362.21 L508.80 358.91 L509.40 355.61 L510.00 352.20 L510.60 348.55 L511.20 344.52 L511.80 340.00 L512.40 334.61 L513.00 328.25 L513.60 321.22 L514.20 314.74 L514.80 306.73 L515.40 277.31 L516.00 234.75 L516.60 211.46 L517.20 187.80 L517.80 163.70 L518.40 140.00 L519.00 115.59 L519.60 93.15 L520.20 75.63 L520.80 61.01 L521.40 49.25 L522.00 37.95 L522.60 30.34 L523.20 30.13 L523.80 36.40 L524.40 45.83 L525.00 55.20 L525.60 64.21 L526.20 74.13 L526.80 84.11 L527.40 93.27 L528.00 101.15 L528.60 108.49 L529.20 115.37 L529.80 121.78 L530.40 127.72 L531.00 133.22 L531.60 138.36 L532.20 143.19 L532.80 147.78 L533.40 152.17 L534.00 156.42 L534.60 160.57 L535.20 164.58 L535.80 168.29 L536.40 171.65 L537.00 174.86 L537.60 177.81 L538.20 180.31 L538.80 182.27 L539.40 184.02 L540.00 185.52 L540.60 186.72 L541.20 187.58 L541.80 188.18 L542.40 188.66 L543.00 189.32 L543.60 189.58 L544.20 189.74 L544.80 190.21 L545.40 190.18 L546.00 190.21 L546.60 190.83 L547.20 190.49 L547.80 190.35 L548.40 190.75 L549.00 192.19 L549.60 191.81 L550.20 190.91 L550.80 190.60 L551.40 190.90 L552.00 190.63 L552.60 190.64 L553.20 190.44 L553.80 190.56 L554.40 190.31 L555.00 189.63 L555.60 189.83 L556.20 190.78 L556.80 191.23 L557.40 190.24 L558.00 190.40 L558.60 190.39 L559.20 190.09 L559.80 189.71 L560.40 190.28 L561.00 190.47 L561.60 190.51 L562.20 190.61 L562.80 190.19 L563.40 190.12 L564.00 189.93 L564.60 189.84 L565.20 189.74 L565.80 189.60 L566.40 188.62 L567.00 189.04 L567.60 189.56 L568.20 189.03 L568.80 189.01 L569.40 189.09 L570.00 189.05 L570.60 189.91 L571.20 190.83 L571.80 190.64 L572.40 190.44 L573.00 189.99 L573.60 189.76 L574.20 190.02 L574.80 189.74 L575.40 190.34 L576.00 191.11 L576.60 190.98 L577.20 191.26 L577.80 191.56 L578.40 191.26 L579.00 192.23 L579.60 192.45 L580.20 192.31 L580.80 191.91 L581.40 191.63 L582.00 191.70 L582.60 192.86 L583.20 192.73 L583.80 192.75 L584.40 192.98 L585.00 193.77 L585.60 193.67 L586.20 193.78 L586.80 194.08 L587.40 193.73 L588.00 193.62 L588.60 194.39 L589.20 194.63 L589.80 194.46 L590.40 194.92 L591.00 195.72 L591.60 194.98 L592.20 194.59 L592.80 195.01 L593.40 195.22 L594.00 195.48 L594.60 195.56 L595.20 195.73 L595.80 196.12 L596.40 196.61 L597.00 196.23 L597.60 196.75 L598.20 197.45 L598.80 197.94 L599.40 197.83 L600.00 196.87 L600.60 196.14 L601.20 196.51 L601.80 196.89 L602.40 197.19 L603.00 197.30 L603.60 197.54 L604.20 197.60 L604.80 197.25 L605.40 197.57 L606.00 197.22 L606.60 197.83 L607.20 197.89 L607.80 197.64 L608.40 197.92" fill="none" stroke="#1a1a1a" stroke-width="1.45" stroke-linejoin="round"/>
<path d="M400.00 237.81 L400.60 238.07 L401.20 237.85 L401.80 237.90 L402.40 238.04 L403.00 237.22 L403.60 237.62 L404.20 237.62 L404.80 237.84 L405.40 237.28 L406.00 236.75 L406.60 237.03 L407.20 237.17 L407.80 236.89 L408.40 236.73 L409.00 236.00 L409.60 235.47 L410.20 236.45 L410.80 236.62 L411.40 236.22 L412.00 236.13 L412.60 236.21 L413.20 235.53 L413.80 235.15 L414.40 235.43 L415.00 235.61 L415.60 234.93 L416.20 235.27 L416.80 234.64 L417.40 234.38 L418.00 234.97 L418.60 234.40 L419.20 233.68 L419.80 233.92 L420.40 234.46 L421.00 234.35 L421.60 233.66 L422.20 233.65 L422.80 233.52 L423.40 232.97 L424.00 232.96 L424.60 232.69 L425.20 232.26 L425.80 232.10 L426.40 232.16 L427.00 231.97 L427.60 231.56 L428.20 231.58 L428.80 231.95 L429.40 231.71 L430.00 231.73 L430.60 231.67 L431.20 231.49 L431.80 231.46 L432.40 230.45 L433.00 230.33 L433.60 230.16 L434.20 230.63 L434.80 230.16 L435.40 228.61 L436.00 228.52 L436.60 229.11 L437.20 229.17 L437.80 228.87 L438.40 228.43 L439.00 228.40 L439.60 228.30 L440.20 228.04 L440.80 227.81 L441.40 226.82 L442.00 227.30 L442.60 227.21 L443.20 227.68 L443.80 227.30 L444.40 226.99 L445.00 227.32 L445.60 226.93 L446.20 226.67 L446.80 226.67 L447.40 227.44 L448.00 228.08 L448.60 228.30 L449.20 228.10 L449.80 228.39 L450.40 228.16 L451.00 228.13 L451.60 228.57 L452.20 228.75 L452.80 228.27 L453.40 228.21 L454.00 228.40 L454.60 228.49 L455.20 228.48 L455.80 229.10 L456.40 228.98 L457.00 229.06 L457.60 228.86 L458.20 229.30 L458.80 229.43 L459.40 229.48 L460.00 230.31 L460.60 230.13 L461.20 230.41 L461.80 229.95 L462.40 229.04 L463.00 229.03 L463.60 229.40 L464.20 229.32 L464.80 229.14 L465.40 228.61 L466.00 227.98 L466.60 227.55 L467.20 226.82 L467.80 226.22 L468.40 225.42 L469.00 224.37 L469.60 223.07 L470.20 221.51 L470.80 219.68 L471.40 217.33 L472.00 213.90 L472.60 209.68 L473.20 205.00 L473.80 200.18 L474.40 195.39 L475.00 190.26 L475.60 184.83 L476.20 179.16 L476.80 173.29 L477.40 167.29 L478.00 161.23 L478.60 155.12 L479.20 148.89 L479.80 142.50 L480.40 135.93 L481.00 129.14 L481.60 122.10 L482.20 114.51 L482.80 106.10 L483.40 98.24 L484.00 91.51 L484.60 84.57 L485.20 78.86 L485.80 75.95 L486.40 78.29 L487.00 85.16 L487.60 93.37 L488.20 103.45 L488.80 116.03 L489.40 130.16 L490.00 145.07 L490.60 161.71 L491.20 180.16 L491.80 200.00 L492.40 220.80 L493.00 245.26 L493.60 284.70 L494.20 306.31 L494.80 314.48 L495.40 321.22 L496.00 328.20 L496.60 334.53 L497.20 340.00 L497.80 344.67 L498.40 348.83 L499.00 352.65 L499.60 356.32 L500.20 360.00 L500.80 363.74 L501.40 367.39 L502.00 370.85 L502.60 374.03 L503.20 376.95 L503.80 379.65 L505.20 376.95 L505.80 374.03 L506.40 370.85 L507.00 367.39 L507.60 363.74 L508.20 360.00 L508.80 356.32 L509.40 352.65 L510.00 348.83 L510.60 344.67 L511.20 340.00 L511.80 334.53 L512.40 328.20 L513.00 321.22 L513.60 314.48 L514.20 306.31 L514.80 284.70 L515.40 245.26 L516.00 220.80 L516.60 200.00 L517.20 180.16 L517.80 161.71 L518.40 145.07 L519.00 130.16 L519.60 116.03 L520.20 103.45 L520.80 93.37 L521.40 85.16 L522.00 78.29 L522.60 75.95 L523.20 78.86 L523.80 84.57 L524.40 91.51 L525.00 98.24 L525.60 106.10 L526.20 114.51 L526.80 122.10 L527.40 129.14 L528.00 135.93 L528.60 142.50 L529.20 148.89 L529.80 155.12 L530.40 161.23 L531.00 167.29 L531.60 173.29 L532.20 179.16 L532.80 184.83 L533.40 190.26 L534.00 195.39 L534.60 200.18 L535.20 205.00 L535.80 209.68 L536.40 213.90 L537.00 217.33 L537.60 219.68 L538.20 221.51 L538.80 223.07 L539.40 224.37 L540.00 225.42 L540.60 226.22 L541.20 226.82 L541.80 227.55 L542.40 227.98 L543.00 228.61 L543.60 229.14 L544.20 229.32 L544.80 229.40 L545.40 229.03 L546.00 229.04 L546.60 229.95 L547.20 230.41 L547.80 230.13 L548.40 230.31 L549.00 229.48 L549.60 229.43 L550.20 229.30 L550.80 228.86 L551.40 229.06 L552.00 228.98 L552.60 229.10 L553.20 228.48 L553.80 228.49 L554.40 228.40 L555.00 228.21 L555.60 228.27 L556.20 228.75 L556.80 228.57 L557.40 228.13 L558.00 228.16 L558.60 228.39 L559.20 228.10 L559.80 228.30 L560.40 228.08 L561.00 227.44 L561.60 226.67 L562.20 226.67 L562.80 226.93 L563.40 227.32 L564.00 226.99 L564.60 227.30 L565.20 227.68 L565.80 227.21 L566.40 227.30 L567.00 226.82 L567.60 227.81 L568.20 228.04 L568.80 228.30 L569.40 228.40 L570.00 228.43 L570.60 228.87 L571.20 229.17 L571.80 229.11 L572.40 228.52 L573.00 228.61 L573.60 230.16 L574.20 230.63 L574.80 230.16 L575.40 230.33 L576.00 230.45 L576.60 231.46 L577.20 231.49 L577.80 231.67 L578.40 231.73 L579.00 231.71 L579.60 231.95 L580.20 231.58 L580.80 231.56 L581.40 231.97 L582.00 232.16 L582.60 232.10 L583.20 232.26 L583.80 232.69 L584.40 232.96 L585.00 232.97 L585.60 233.52 L586.20 233.65 L586.80 233.66 L587.40 234.35 L588.00 234.46 L588.60 233.92 L589.20 233.68 L589.80 234.40 L590.40 234.97 L591.00 234.38 L591.60 234.64 L592.20 235.27 L592.80 234.93 L593.40 235.61 L594.00 235.43 L594.60 235.15 L595.20 235.53 L595.80 236.21 L596.40 236.13 L597.00 236.22 L597.60 236.62 L598.20 236.45 L598.80 235.47 L599.40 236.00 L600.00 236.73 L600.60 236.89 L601.20 237.17 L601.80 237.03 L602.40 236.75 L603.00 237.28 L603.60 237.84 L604.20 237.62 L604.80 237.62 L605.40 237.22 L606.00 238.04 L606.60 237.90 L607.20 237.85 L607.80 238.07 L608.40 237.81" fill="none" stroke="#1a1a1a" stroke-width="1.45" stroke-linejoin="round"/>
<path d="M400.00 276.10 L400.60 276.55 L401.20 275.35 L401.80 275.37 L402.40 275.83 L403.00 275.92 L403.60 276.00 L404.20 275.91 L404.80 275.79 L405.40 275.71 L406.00 274.66 L406.60 274.89 L407.20 274.90 L407.80 275.05 L408.40 274.93 L409.00 274.35 L409.60 274.39 L410.20 274.87 L410.80 274.60 L411.40 274.36 L412.00 275.31 L412.60 275.14 L413.20 273.65 L413.80 274.06 L414.40 274.90 L415.00 274.25 L415.60 273.55 L416.20 273.10 L416.80 272.80 L417.40 272.70 L418.00 272.65 L418.60 272.85 L419.20 272.39 L419.80 271.95 L420.40 271.63 L421.00 271.75 L421.60 271.50 L422.20 271.71 L422.80 272.08 L423.40 271.84 L424.00 271.63 L424.60 271.39 L425.20 271.06 L425.80 270.76 L426.40 270.66 L427.00 270.67 L427.60 270.23 L428.20 270.67 L428.80 270.20 L429.40 269.57 L430.00 269.39 L430.60 269.30 L431.20 269.34 L431.80 269.18 L432.40 269.39 L433.00 268.47 L433.60 267.62 L434.20 267.70 L434.80 267.48 L435.40 268.09 L436.00 268.58 L436.60 268.12 L437.20 267.14 L437.80 267.29 L438.40 268.09 L439.00 267.64 L439.60 267.30 L440.20 267.79 L440.80 268.28 L441.40 267.70 L442.00 266.94 L442.60 266.82 L443.20 266.71 L443.80 266.04 L444.40 265.75 L445.00 266.00 L445.60 265.80 L446.20 266.05 L446.80 266.61 L447.40 267.18 L448.00 266.07 L448.60 265.87 L449.20 266.05 L449.80 266.41 L450.40 266.54 L451.00 265.80 L451.60 265.23 L452.20 264.86 L452.80 265.30 L453.40 266.03 L454.00 265.83 L454.60 265.31 L455.20 265.48 L455.80 265.83 L456.40 265.91 L457.00 265.47 L457.60 265.16 L458.20 264.52 L458.80 264.98 L459.40 265.73 L460.00 264.60 L460.60 264.87 L461.20 265.21 L461.80 264.85 L462.40 264.55 L463.00 264.66 L463.60 264.58 L464.20 264.09 L464.80 263.40 L465.40 263.33 L466.00 262.91 L466.60 262.50 L467.20 262.12 L467.80 261.52 L468.40 260.53 L469.00 259.19 L469.60 257.49 L470.20 255.55 L470.80 253.47 L471.40 251.35 L472.00 249.22 L472.60 246.95 L473.20 244.49 L473.80 241.78 L474.40 238.77 L475.00 235.40 L475.60 231.30 L476.20 226.46 L476.80 221.13 L477.40 215.56 L478.00 210.00 L478.60 204.20 L479.20 197.97 L479.80 191.65 L480.40 185.55 L481.00 180.00 L481.60 174.83 L482.20 169.83 L482.80 165.30 L483.40 161.53 L484.00 158.31 L484.60 155.23 L485.20 152.99 L485.80 151.83 L486.40 153.41 L487.00 155.65 L487.60 158.53 L488.20 163.28 L488.80 170.20 L489.40 178.53 L490.00 189.26 L490.60 203.43 L491.20 217.82 L491.80 230.63 L492.40 243.11 L493.00 255.00 L493.60 266.40 L494.20 277.12 L494.80 286.48 L495.40 294.66 L496.00 302.83 L496.60 311.81 L497.20 319.15 L497.80 323.54 L498.40 326.99 L499.00 329.84 L499.60 332.36 L500.20 334.83 L500.80 337.28 L501.40 339.44 L502.00 341.00 L502.60 342.12 L503.20 342.76 L503.80 343.31 L505.20 342.76 L505.80 342.12 L506.40 341.00 L507.00 339.44 L507.60 337.28 L508.20 334.83 L508.80 332.36 L509.40 329.84 L510.00 326.99 L510.60 323.54 L511.20 319.15 L511.80 311.81 L512.40 302.83 L513.00 294.66 L513.60 286.48 L514.20 277.12 L514.80 266.40 L515.40 255.00 L516.00 243.11 L516.60 230.63 L517.20 217.82 L517.80 203.43 L518.40 189.26 L519.00 178.53 L519.60 170.20 L520.20 163.28 L520.80 158.53 L521.40 155.65 L522.00 153.41 L522.60 151.83 L523.20 152.99 L523.80 155.23 L524.40 158.31 L525.00 161.53 L525.60 165.30 L526.20 169.83 L526.80 174.83 L527.40 180.00 L528.00 185.55 L528.60 191.65 L529.20 197.97 L529.80 204.20 L530.40 210.00 L531.00 215.56 L531.60 221.13 L532.20 226.46 L532.80 231.30 L533.40 235.40 L534.00 238.77 L534.60 241.78 L535.20 244.49 L535.80 246.95 L536.40 249.22 L537.00 251.35 L537.60 253.47 L538.20 255.55 L538.80 257.49 L539.40 259.19 L540.00 260.53 L540.60 261.52 L541.20 262.12 L541.80 262.50 L542.40 262.91 L543.00 263.33 L543.60 263.40 L544.20 264.09 L544.80 264.58 L545.40 264.66 L546.00 264.55 L546.60 264.85 L547.20 265.21 L547.80 264.87 L548.40 264.60 L549.00 265.73 L549.60 264.98 L550.20 264.52 L550.80 265.16 L551.40 265.47 L552.00 265.91 L552.60 265.83 L553.20 265.48 L553.80 265.31 L554.40 265.83 L555.00 266.03 L555.60 265.30 L556.20 264.86 L556.80 265.23 L557.40 265.80 L558.00 266.54 L558.60 266.41 L559.20 266.05 L559.80 265.87 L560.40 266.07 L561.00 267.18 L561.60 266.61 L562.20 266.05 L562.80 265.80 L563.40 266.00 L564.00 265.75 L564.60 266.04 L565.20 266.71 L565.80 266.82 L566.40 266.94 L567.00 267.70 L567.60 268.28 L568.20 267.79 L568.80 267.30 L569.40 267.64 L570.00 268.09 L570.60 267.29 L571.20 267.14 L571.80 268.12 L572.40 268.58 L573.00 268.09 L573.60 267.48 L574.20 267.70 L574.80 267.62 L575.40 268.47 L576.00 269.39 L576.60 269.18 L577.20 269.34 L577.80 269.30 L578.40 269.39 L579.00 269.57 L579.60 270.20 L580.20 270.67 L580.80 270.23 L581.40 270.67 L582.00 270.66 L582.60 270.76 L583.20 271.06 L583.80 271.39 L584.40 271.63 L585.00 271.84 L585.60 272.08 L586.20 271.71 L586.80 271.50 L587.40 271.75 L588.00 271.63 L588.60 271.95 L589.20 272.39 L589.80 272.85 L590.40 272.65 L591.00 272.70 L591.60 272.80 L592.20 273.10 L592.80 273.55 L593.40 274.25 L594.00 274.90 L594.60 274.06 L595.20 273.65 L595.80 275.14 L596.40 275.31 L597.00 274.36 L597.60 274.60 L598.20 274.87 L598.80 274.39 L599.40 274.35 L600.00 274.93 L600.60 275.05 L601.20 274.90 L601.80 274.89 L602.40 274.66 L603.00 275.71 L603.60 275.79 L604.20 275.91 L604.80 276.00 L605.40 275.92 L606.00 275.83 L606.60 275.37 L607.20 275.35 L607.80 276.55 L608.40 276.10" fill="none" stroke="#1a1a1a" stroke-width="1.45" stroke-linejoin="round"/>
<path d="M400.00 314.55 L400.60 314.31 L401.20 314.81 L401.80 315.07 L402.40 314.26 L403.00 314.08 L403.60 314.92 L404.20 314.05 L404.80 313.44 L405.40 313.89 L406.00 313.91 L406.60 313.54 L407.20 313.73 L407.80 313.20 L408.40 312.86 L409.00 313.25 L409.60 313.34 L410.20 312.83 L410.80 312.86 L411.40 313.12 L412.00 313.69 L412.60 312.75 L413.20 312.81 L413.80 312.34 L414.40 312.09 L415.00 312.35 L415.60 312.47 L416.20 312.39 L416.80 311.76 L417.40 311.09 L418.00 311.00 L418.60 311.34 L419.20 311.50 L419.80 311.58 L420.40 311.22 L421.00 311.28 L421.60 311.23 L422.20 310.33 L422.80 309.32 L423.40 309.03 L424.00 309.25 L424.60 310.01 L425.20 309.54 L425.80 309.84 L426.40 309.86 L427.00 309.99 L427.60 309.54 L428.20 308.79 L428.80 308.48 L429.40 308.44 L430.00 308.26 L430.60 307.88 L431.20 308.06 L431.80 308.19 L432.40 307.14 L433.00 307.17 L433.60 306.94 L434.20 307.17 L434.80 307.30 L435.40 306.97 L436.00 306.69 L436.60 306.03 L437.20 306.42 L437.80 306.08 L438.40 306.12 L439.00 305.55 L439.60 304.43 L440.20 304.76 L440.80 305.42 L441.40 305.74 L442.00 305.22 L442.60 304.62 L443.20 304.13 L443.80 304.91 L444.40 305.00 L445.00 304.10 L445.60 303.37 L446.20 302.91 L446.80 303.73 L447.40 304.29 L448.00 303.58 L448.60 303.19 L449.20 302.52 L449.80 301.88 L450.40 301.91 L451.00 301.10 L451.60 300.90 L452.20 300.94 L452.80 300.85 L453.40 300.46 L454.00 299.98 L454.60 299.23 L455.20 298.80 L455.80 298.96 L456.40 298.56 L457.00 298.04 L457.60 297.94 L458.20 297.97 L458.80 297.44 L459.40 297.31 L460.00 297.43 L460.60 298.13 L461.20 298.60 L461.80 298.66 L462.40 297.36 L463.00 297.25 L463.60 297.60 L464.20 297.09 L464.80 296.64 L465.40 296.09 L466.00 295.10 L466.60 294.15 L467.20 293.31 L467.80 292.55 L468.40 291.62 L469.00 290.66 L469.60 289.67 L470.20 288.67 L470.80 287.70 L471.40 286.74 L472.00 285.76 L472.60 284.74 L473.20 283.67 L473.80 282.50 L474.40 281.23 L475.00 279.74 L475.60 277.96 L476.20 276.00 L476.80 273.99 L477.40 272.04 L478.00 270.27 L478.60 268.73 L479.20 267.31 L479.80 265.96 L480.40 264.62 L481.00 263.23 L481.60 261.70 L482.20 259.91 L482.80 258.16 L483.40 256.80 L484.00 255.79 L484.60 255.72 L485.20 255.52 L485.80 255.30 L486.40 255.19 L487.00 256.52 L487.60 258.22 L488.20 260.70 L488.80 263.42 L489.40 266.50 L490.00 269.78 L490.60 272.88 L491.20 275.53 L491.80 277.96 L492.40 280.16 L493.00 282.07 L493.60 283.78 L494.20 285.50 L494.80 287.35 L495.40 289.27 L496.00 291.15 L496.60 292.93 L497.20 294.51 L497.80 295.99 L498.40 297.40 L499.00 298.73 L499.60 299.95 L500.20 301.06 L500.80 302.06 L501.40 302.96 L502.00 303.72 L502.60 304.14 L503.20 304.40 L503.80 304.82 L505.20 304.40 L505.80 304.14 L506.40 303.72 L507.00 302.96 L507.60 302.06 L508.20 301.06 L508.80 299.95 L509.40 298.73 L510.00 297.40 L510.60 295.99 L511.20 294.51 L511.80 292.93 L512.40 291.15 L513.00 289.27 L513.60 287.35 L514.20 285.50 L514.80 283.78 L515.40 282.07 L516.00 280.16 L516.60 277.96 L517.20 275.53 L517.80 272.88 L518.40 269.78 L519.00 266.50 L519.60 263.42 L520.20 260.70 L520.80 258.22 L521.40 256.52 L522.00 255.19 L522.60 255.30 L523.20 255.52 L523.80 255.72 L524.40 255.79 L525.00 256.80 L525.60 258.16 L526.20 259.91 L526.80 261.70 L527.40 263.23 L528.00 264.62 L528.60 265.96 L529.20 267.31 L529.80 268.73 L530.40 270.27 L531.00 272.04 L531.60 273.99 L532.20 276.00 L532.80 277.96 L533.40 279.74 L534.00 281.23 L534.60 282.50 L535.20 283.67 L535.80 284.74 L536.40 285.76 L537.00 286.74 L537.60 287.70 L538.20 288.67 L538.80 289.67 L539.40 290.66 L540.00 291.62 L540.60 292.55 L541.20 293.31 L541.80 294.15 L542.40 295.10 L543.00 296.09 L543.60 296.64 L544.20 297.09 L544.80 297.60 L545.40 297.25 L546.00 297.36 L546.60 298.66 L547.20 298.60 L547.80 298.13 L548.40 297.43 L549.00 297.31 L549.60 297.44 L550.20 297.97 L550.80 297.94 L551.40 298.04 L552.00 298.56 L552.60 298.96 L553.20 298.80 L553.80 299.23 L554.40 299.98 L555.00 300.46 L555.60 300.85 L556.20 300.94 L556.80 300.90 L557.40 301.10 L558.00 301.91 L558.60 301.88 L559.20 302.52 L559.80 303.19 L560.40 303.58 L561.00 304.29 L561.60 303.73 L562.20 302.91 L562.80 303.37 L563.40 304.10 L564.00 305.00 L564.60 304.91 L565.20 304.13 L565.80 304.62 L566.40 305.22 L567.00 305.74 L567.60 305.42 L568.20 304.76 L568.80 304.43 L569.40 305.55 L570.00 306.12 L570.60 306.08 L571.20 306.42 L571.80 306.03 L572.40 306.69 L573.00 306.97 L573.60 307.30 L574.20 307.17 L574.80 306.94 L575.40 307.17 L576.00 307.14 L576.60 308.19 L577.20 308.06 L577.80 307.88 L578.40 308.26 L579.00 308.44 L579.60 308.48 L580.20 308.79 L580.80 309.54 L581.40 309.99 L582.00 309.86 L582.60 309.84 L583.20 309.54 L583.80 310.01 L584.40 309.25 L585.00 309.03 L585.60 309.32 L586.20 310.33 L586.80 311.23 L587.40 311.28 L588.00 311.22 L588.60 311.58 L589.20 311.50 L589.80 311.34 L590.40 311.00 L591.00 311.09 L591.60 311.76 L592.20 312.39 L592.80 312.47 L593.40 312.35 L594.00 312.09 L594.60 312.34 L595.20 312.81 L595.80 312.75 L596.40 313.69 L597.00 313.12 L597.60 312.86 L598.20 312.83 L598.80 313.34 L599.40 313.25 L600.00 312.86 L600.60 313.20 L601.20 313.73 L601.80 313.54 L602.40 313.91 L603.00 313.89 L603.60 313.44 L604.20 314.05 L604.80 314.92 L605.40 314.08 L606.00 314.26 L606.60 315.07 L607.20 314.81 L607.80 314.31 L608.40 314.55" fill="none" stroke="#1a1a1a" stroke-width="1.45" stroke-linejoin="round"/>
<path d="M400.00 355.23 L400.60 355.49 L401.20 354.49 L401.80 353.77 L402.40 353.98 L403.00 353.79 L403.60 353.97 L404.20 353.80 L404.80 353.66 L405.40 353.51 L406.00 352.94 L406.60 352.54 L407.20 352.05 L407.80 352.16 L408.40 351.98 L409.00 352.16 L409.60 352.02 L410.20 352.29 L410.80 352.20 L411.40 351.39 L412.00 351.23 L412.60 351.37 L413.20 352.09 L413.80 352.49 L414.40 351.94 L415.00 351.42 L415.60 351.46 L416.20 350.73 L416.80 351.14 L417.40 350.19 L418.00 349.60 L418.60 351.29 L419.20 351.06 L419.80 349.82 L420.40 349.74 L421.00 349.62 L421.60 349.30 L422.20 348.62 L422.80 348.71 L423.40 349.08 L424.00 349.08 L424.60 349.11 L425.20 348.91 L425.80 349.07 L426.40 348.07 L427.00 347.57 L427.60 346.72 L428.20 346.85 L428.80 347.48 L429.40 346.91 L430.00 346.93 L430.60 346.56 L431.20 345.98 L431.80 345.91 L432.40 345.75 L433.00 345.71 L433.60 346.00 L434.20 345.77 L434.80 345.01 L435.40 344.68 L436.00 344.85 L436.60 344.81 L437.20 345.22 L437.80 345.57 L438.40 344.74 L439.00 343.92 L439.60 343.45 L440.20 342.94 L440.80 342.61 L441.40 342.43 L442.00 342.44 L442.60 342.45 L443.20 342.54 L443.80 342.05 L444.40 341.63 L445.00 341.41 L445.60 342.03 L446.20 341.91 L446.80 341.91 L447.40 341.56 L448.00 341.25 L448.60 340.57 L449.20 340.77 L449.80 340.96 L450.40 339.77 L451.00 340.07 L451.60 340.23 L452.20 339.63 L452.80 339.47 L453.40 339.26 L454.00 338.49 L454.60 338.29 L455.20 337.73 L455.80 337.44 L456.40 337.35 L457.00 337.38 L457.60 337.38 L458.20 337.07 L458.80 336.60 L459.40 337.35 L460.00 337.16 L460.60 336.50 L461.20 335.81 L461.80 335.60 L462.40 335.58 L463.00 335.07 L463.60 334.30 L464.20 334.88 L464.80 335.04 L465.40 333.65 L466.00 333.66 L466.60 333.30 L467.20 332.77 L467.80 332.37 L468.40 331.45 L469.00 331.15 L469.60 330.99 L470.20 330.20 L470.80 329.62 L471.40 329.30 L472.00 329.00 L472.60 328.96 L473.20 328.21 L473.80 327.96 L474.40 327.33 L475.00 327.36 L475.60 326.72 L476.20 325.74 L476.80 325.98 L477.40 325.71 L478.00 325.79 L478.60 325.97 L479.20 324.96 L479.80 324.64 L480.40 325.15 L481.00 324.99 L481.60 325.21 L482.20 324.63 L482.80 323.92 L483.40 324.33 L484.00 324.98 L484.60 324.92 L485.20 325.33 L485.80 326.24 L486.40 327.14 L487.00 328.09 L487.60 329.16 L488.20 330.33 L488.80 331.60 L489.40 332.95 L490.00 334.47 L490.60 336.27 L491.20 338.68 L491.80 341.60 L492.40 344.16 L493.00 346.53 L493.60 348.91 L494.20 351.50 L494.80 354.40 L495.40 357.39 L496.00 360.20 L496.60 362.80 L497.20 365.28 L497.80 367.58 L498.40 369.68 L499.00 371.65 L499.60 373.44 L500.20 375.00 L500.80 376.49 L501.40 377.78 L502.00 378.62 L502.60 378.91 L503.20 379.59 L503.80 380.04 L505.20 379.59 L505.80 378.91 L506.40 378.62 L507.00 377.78 L507.60 376.49 L508.20 375.00 L508.80 373.44 L509.40 371.65 L510.00 369.68 L510.60 367.58 L511.20 365.28 L511.80 362.80 L512.40 360.20 L513.00 357.39 L513.60 354.40 L514.20 351.50 L514.80 348.91 L515.40 346.53 L516.00 344.16 L516.60 341.60 L517.20 338.68 L517.80 336.27 L518.40 334.47 L519.00 332.95 L519.60 331.60 L520.20 330.33 L520.80 329.16 L521.40 328.09 L522.00 327.14 L522.60 326.24 L523.20 325.33 L523.80 324.92 L524.40 324.98 L525.00 324.33 L525.60 323.92 L526.20 324.63 L526.80 325.21 L527.40 324.99 L528.00 325.15 L528.60 324.64 L529.20 324.96 L529.80 325.97 L530.40 325.79 L531.00 325.71 L531.60 325.98 L532.20 325.74 L532.80 326.72 L533.40 327.36 L534.00 327.33 L534.60 327.96 L535.20 328.21 L535.80 328.96 L536.40 329.00 L537.00 329.30 L537.60 329.62 L538.20 330.20 L538.80 330.99 L539.40 331.15 L540.00 331.45 L540.60 332.37 L541.20 332.77 L541.80 333.30 L542.40 333.66 L543.00 333.65 L543.60 335.04 L544.20 334.88 L544.80 334.30 L545.40 335.07 L546.00 335.58 L546.60 335.60 L547.20 335.81 L547.80 336.50 L548.40 337.16 L549.00 337.35 L549.60 336.60 L550.20 337.07 L550.80 337.38 L551.40 337.38 L552.00 337.35 L552.60 337.44 L553.20 337.73 L553.80 338.29 L554.40 338.49 L555.00 339.26 L555.60 339.47 L556.20 339.63 L556.80 340.23 L557.40 340.07 L558.00 339.77 L558.60 340.96 L559.20 340.77 L559.80 340.57 L560.40 341.25 L561.00 341.56 L561.60 341.91 L562.20 341.91 L562.80 342.03 L563.40 341.41 L564.00 341.63 L564.60 342.05 L565.20 342.54 L565.80 342.45 L566.40 342.44 L567.00 342.43 L567.60 342.61 L568.20 342.94 L568.80 343.45 L569.40 343.92 L570.00 344.74 L570.60 345.57 L571.20 345.22 L571.80 344.81 L572.40 344.85 L573.00 344.68 L573.60 345.01 L574.20 345.77 L574.80 346.00 L575.40 345.71 L576.00 345.75 L576.60 345.91 L577.20 345.98 L577.80 346.56 L578.40 346.93 L579.00 346.91 L579.60 347.48 L580.20 346.85 L580.80 346.72 L581.40 347.57 L582.00 348.07 L582.60 349.07 L583.20 348.91 L583.80 349.11 L584.40 349.08 L585.00 349.08 L585.60 348.71 L586.20 348.62 L586.80 349.30 L587.40 349.62 L588.00 349.74 L588.60 349.82 L589.20 351.06 L589.80 351.29 L590.40 349.60 L591.00 350.19 L591.60 351.14 L592.20 350.73 L592.80 351.46 L593.40 351.42 L594.00 351.94 L594.60 352.49 L595.20 352.09 L595.80 351.37 L596.40 351.23 L597.00 351.39 L597.60 352.20 L598.20 352.29 L598.80 352.02 L599.40 352.16 L600.00 351.98 L600.60 352.16 L601.20 352.05 L601.80 352.54 L602.40 352.94 L603.00 353.51 L603.60 353.66 L604.20 353.80 L604.80 353.97 L605.40 353.79 L606.00 353.98 L606.60 353.77 L607.20 354.49 L607.80 355.49 L608.40 355.23" fill="none" stroke="#5b8c44" stroke-width="1.2" stroke-linejoin="round"/>
<path d="M400.00 394.59 L400.60 394.01 L401.20 394.23 L401.80 394.37 L402.40 394.11 L403.00 393.66 L403.60 393.78 L404.20 393.21 L404.80 393.39 L405.40 393.71 L406.00 392.92 L406.60 392.76 L407.20 393.06 L407.80 392.50 L408.40 392.23 L409.00 392.40 L409.60 392.18 L410.20 390.94 L410.80 390.86 L411.40 390.78 L412.00 390.55 L412.60 390.44 L413.20 390.44 L413.80 390.58 L414.40 390.20 L415.00 390.37 L415.60 390.36 L416.20 389.91 L416.80 390.30 L417.40 390.90 L418.00 390.30 L418.60 389.65 L419.20 389.59 L419.80 389.42 L420.40 389.93 L421.00 390.11 L421.60 389.43 L422.20 389.64 L422.80 390.08 L423.40 389.57 L424.00 389.39 L424.60 388.89 L425.20 388.78 L425.80 389.30 L426.40 390.04 L427.00 389.12 L427.60 388.52 L428.20 388.31 L428.80 388.29 L429.40 388.27 L430.00 388.12 L430.60 388.21 L431.20 387.65 L431.80 387.48 L432.40 387.00 L433.00 386.48 L433.60 385.67 L434.20 385.68 L434.80 385.61 L435.40 385.07 L436.00 384.47 L436.60 385.00 L437.20 384.67 L437.80 384.28 L438.40 384.12 L439.00 384.00 L439.60 383.81 L440.20 383.06 L440.80 382.90 L441.40 383.16 L442.00 382.97 L442.60 382.49 L443.20 382.08 L443.80 381.82 L444.40 382.00 L445.00 382.05 L445.60 381.44 L446.20 381.80 L446.80 381.46 L447.40 380.79 L448.00 380.55 L448.60 379.59 L449.20 379.01 L449.80 378.97 L450.40 379.06 L451.00 378.88 L451.60 378.59 L452.20 378.22 L452.80 377.51 L453.40 377.62 L454.00 377.04 L454.60 376.79 L455.20 376.55 L455.80 375.98 L456.40 375.54 L457.00 375.43 L457.60 375.56 L458.20 375.57 L458.80 375.15 L459.40 374.33 L460.00 373.90 L460.60 373.75 L461.20 373.66 L461.80 373.04 L462.40 373.48 L463.00 372.96 L463.60 372.54 L464.20 372.82 L464.80 372.96 L465.40 372.70 L466.00 372.61 L466.60 372.34 L467.20 372.58 L467.80 372.44 L468.40 371.97 L469.00 372.18 L469.60 371.72 L470.20 371.23 L470.80 370.75 L471.40 370.91 L472.00 371.00 L472.60 370.37 L473.20 370.56 L473.80 370.38 L474.40 369.73 L475.00 368.77 L475.60 369.08 L476.20 369.30 L476.80 368.77 L477.40 368.42 L478.00 367.77 L478.60 368.43 L479.20 368.42 L479.80 368.43 L480.40 367.73 L481.00 368.34 L481.60 368.44 L482.20 368.51 L482.80 367.94 L483.40 368.38 L484.00 369.34 L484.60 368.76 L485.20 368.79 L485.80 369.22 L486.40 369.76 L487.00 370.74 L487.60 371.55 L488.20 372.41 L488.80 373.48 L489.40 374.66 L490.00 375.90 L490.60 377.20 L491.20 378.57 L491.80 379.95 L492.40 381.29 L493.00 382.61 L493.60 383.93 L494.20 385.24 L494.80 386.58 L495.40 387.90 L496.00 389.10 L496.60 390.20 L497.20 391.24 L497.80 392.30 L498.40 392.98 L499.00 393.35 L499.60 394.18 L500.20 394.91 L500.80 394.89 L501.40 395.14 L502.00 395.92 L502.60 395.82 L503.20 395.39 L503.80 395.65 L505.20 395.39 L505.80 395.82 L506.40 395.92 L507.00 395.14 L507.60 394.89 L508.20 394.91 L508.80 394.18 L509.40 393.35 L510.00 392.98 L510.60 392.30 L511.20 391.24 L511.80 390.20 L512.40 389.10 L513.00 387.90 L513.60 386.58 L514.20 385.24 L514.80 383.93 L515.40 382.61 L516.00 381.29 L516.60 379.95 L517.20 378.57 L517.80 377.20 L518.40 375.90 L519.00 374.66 L519.60 373.48 L520.20 372.41 L520.80 371.55 L521.40 370.74 L522.00 369.76 L522.60 369.22 L523.20 368.79 L523.80 368.76 L524.40 369.34 L525.00 368.38 L525.60 367.94 L526.20 368.51 L526.80 368.44 L527.40 368.34 L528.00 367.73 L528.60 368.43 L529.20 368.42 L529.80 368.43 L530.40 367.77 L531.00 368.42 L531.60 368.77 L532.20 369.30 L532.80 369.08 L533.40 368.77 L534.00 369.73 L534.60 370.38 L535.20 370.56 L535.80 370.37 L536.40 371.00 L537.00 370.91 L537.60 370.75 L538.20 371.23 L538.80 371.72 L539.40 372.18 L540.00 371.97 L540.60 372.44 L541.20 372.58 L541.80 372.34 L542.40 372.61 L543.00 372.70 L543.60 372.96 L544.20 372.82 L544.80 372.54 L545.40 372.96 L546.00 373.48 L546.60 373.04 L547.20 373.66 L547.80 373.75 L548.40 373.90 L549.00 374.33 L549.60 375.15 L550.20 375.57 L550.80 375.56 L551.40 375.43 L552.00 375.54 L552.60 375.98 L553.20 376.55 L553.80 376.79 L554.40 377.04 L555.00 377.62 L555.60 377.51 L556.20 378.22 L556.80 378.59 L557.40 378.88 L558.00 379.06 L558.60 378.97 L559.20 379.01 L559.80 379.59 L560.40 380.55 L561.00 380.79 L561.60 381.46 L562.20 381.80 L562.80 381.44 L563.40 382.05 L564.00 382.00 L564.60 381.82 L565.20 382.08 L565.80 382.49 L566.40 382.97 L567.00 383.16 L567.60 382.90 L568.20 383.06 L568.80 383.81 L569.40 384.00 L570.00 384.12 L570.60 384.28 L571.20 384.67 L571.80 385.00 L572.40 384.47 L573.00 385.07 L573.60 385.61 L574.20 385.68 L574.80 385.67 L575.40 386.48 L576.00 387.00 L576.60 387.48 L577.20 387.65 L577.80 388.21 L578.40 388.12 L579.00 388.27 L579.60 388.29 L580.20 388.31 L580.80 388.52 L581.40 389.12 L582.00 390.04 L582.60 389.30 L583.20 388.78 L583.80 388.89 L584.40 389.39 L585.00 389.57 L585.60 390.08 L586.20 389.64 L586.80 389.43 L587.40 390.11 L588.00 389.93 L588.60 389.42 L589.20 389.59 L589.80 389.65 L590.40 390.30 L591.00 390.90 L591.60 390.30 L592.20 389.91 L592.80 390.36 L593.40 390.37 L594.00 390.20 L594.60 390.58 L595.20 390.44 L595.80 390.44 L596.40 390.55 L597.00 390.78 L597.60 390.86 L598.20 390.94 L598.80 392.18 L599.40 392.40 L600.00 392.23 L600.60 392.50 L601.20 393.06 L601.80 392.76 L602.40 392.92 L603.00 393.71 L603.60 393.39 L604.20 393.21 L604.80 393.78 L605.40 393.66 L606.00 394.11 L606.60 394.37 L607.20 394.23 L607.80 394.01 L608.40 394.59" fill="none" stroke="#1a1a1a" stroke-width="1.45" stroke-linejoin="round"/>
<path d="M400.00 434.78 L400.60 434.89 L401.20 434.93 L401.80 435.07 L402.40 434.65 L403.00 433.92 L403.60 434.24 L404.20 434.43 L404.80 434.26 L405.40 434.08 L406.00 433.43 L406.60 433.18 L407.20 433.39 L407.80 432.67 L408.40 432.29 L409.00 432.88 L409.60 432.54 L410.20 432.22 L410.80 431.76 L411.40 431.53 L412.00 431.52 L412.60 431.72 L413.20 431.59 L413.80 430.97 L414.40 431.30 L415.00 430.86 L415.60 430.71 L416.20 431.04 L416.80 430.66 L417.40 430.31 L418.00 430.77 L418.60 430.22 L419.20 430.10 L419.80 430.16 L420.40 430.16 L421.00 429.68 L421.60 429.58 L422.20 429.19 L422.80 429.22 L423.40 428.68 L424.00 428.66 L424.60 429.06 L425.20 428.59 L425.80 428.39 L426.40 428.65 L427.00 427.97 L427.60 427.38 L428.20 427.35 L428.80 426.96 L429.40 427.30 L430.00 427.18 L430.60 426.44 L431.20 426.12 L431.80 426.16 L432.40 425.89 L433.00 425.53 L433.60 425.44 L434.20 424.75 L434.80 424.78 L435.40 424.76 L436.00 424.66 L436.60 424.49 L437.20 424.05 L437.80 424.16 L438.40 423.85 L439.00 423.35 L439.60 422.89 L440.20 422.82 L440.80 422.95 L441.40 422.60 L442.00 422.66 L442.60 422.85 L443.20 422.78 L443.80 422.54 L444.40 421.73 L445.00 421.30 L445.60 421.58 L446.20 421.45 L446.80 421.30 L447.40 420.95 L448.00 420.95 L448.60 420.75 L449.20 420.44 L449.80 420.15 L450.40 419.88 L451.00 419.62 L451.60 419.48 L452.20 419.36 L452.80 419.01 L453.40 419.17 L454.00 418.75 L454.60 418.59 L455.20 418.15 L455.80 418.03 L456.40 418.28 L457.00 417.49 L457.60 416.80 L458.20 416.71 L458.80 416.94 L459.40 417.32 L460.00 416.83 L460.60 416.44 L461.20 415.84 L461.80 415.86 L462.40 415.96 L463.00 415.83 L463.60 415.10 L464.20 414.95 L464.80 414.58 L465.40 413.99 L466.00 413.80 L466.60 413.31 L467.20 412.68 L467.80 412.88 L468.40 412.69 L469.00 412.02 L469.60 411.62 L470.20 411.90 L470.80 411.64 L471.40 411.57 L472.00 411.40 L472.60 410.80 L473.20 410.73 L473.80 410.39 L474.40 410.16 L475.00 410.02 L475.60 410.02 L476.20 410.16 L476.80 409.80 L477.40 409.46 L478.00 409.37 L478.60 409.35 L479.20 408.97 L479.80 408.99 L480.40 409.14 L481.00 409.06 L481.60 409.10 L482.20 409.31 L482.80 410.17 L483.40 410.14 L484.00 409.64 L484.60 409.62 L485.20 410.18 L485.80 409.82 L486.40 409.66 L487.00 409.91 L487.60 410.25 L488.20 410.62 L488.80 410.74 L489.40 411.19 L490.00 411.13 L490.60 411.55 L491.20 411.95 L491.80 412.73 L492.40 412.97 L493.00 413.41 L493.60 414.11 L494.20 414.50 L494.80 414.47 L495.40 414.82 L496.00 415.20 L496.60 415.87 L497.20 416.33 L497.80 416.65 L498.40 416.97 L499.00 417.34 L499.60 417.71 L500.20 418.41 L500.80 418.77 L501.40 418.33 L502.00 418.74 L502.60 419.14 L503.20 419.46 L503.80 419.39 L505.20 419.46 L505.80 419.14 L506.40 418.74 L507.00 418.33 L507.60 418.77 L508.20 418.41 L508.80 417.71 L509.40 417.34 L510.00 416.97 L510.60 416.65 L511.20 416.33 L511.80 415.87 L512.40 415.20 L513.00 414.82 L513.60 414.47 L514.20 414.50 L514.80 414.11 L515.40 413.41 L516.00 412.97 L516.60 412.73 L517.20 411.95 L517.80 411.55 L518.40 411.13 L519.00 411.19 L519.60 410.74 L520.20 410.62 L520.80 410.25 L521.40 409.91 L522.00 409.66 L522.60 409.82 L523.20 410.18 L523.80 409.62 L524.40 409.64 L525.00 410.14 L525.60 410.17 L526.20 409.31 L526.80 409.10 L527.40 409.06 L528.00 409.14 L528.60 408.99 L529.20 408.97 L529.80 409.35 L530.40 409.37 L531.00 409.46 L531.60 409.80 L532.20 410.16 L532.80 410.02 L533.40 410.02 L534.00 410.16 L534.60 410.39 L535.20 410.73 L535.80 410.80 L536.40 411.40 L537.00 411.57 L537.60 411.64 L538.20 411.90 L538.80 411.62 L539.40 412.02 L540.00 412.69 L540.60 412.88 L541.20 412.68 L541.80 413.31 L542.40 413.80 L543.00 413.99 L543.60 414.58 L544.20 414.95 L544.80 415.10 L545.40 415.83 L546.00 415.96 L546.60 415.86 L547.20 415.84 L547.80 416.44 L548.40 416.83 L549.00 417.32 L549.60 416.94 L550.20 416.71 L550.80 416.80 L551.40 417.49 L552.00 418.28 L552.60 418.03 L553.20 418.15 L553.80 418.59 L554.40 418.75 L555.00 419.17 L555.60 419.01 L556.20 419.36 L556.80 419.48 L557.40 419.62 L558.00 419.88 L558.60 420.15 L559.20 420.44 L559.80 420.75 L560.40 420.95 L561.00 420.95 L561.60 421.30 L562.20 421.45 L562.80 421.58 L563.40 421.30 L564.00 421.73 L564.60 422.54 L565.20 422.78 L565.80 422.85 L566.40 422.66 L567.00 422.60 L567.60 422.95 L568.20 422.82 L568.80 422.89 L569.40 423.35 L570.00 423.85 L570.60 424.16 L571.20 424.05 L571.80 424.49 L572.40 424.66 L573.00 424.76 L573.60 424.78 L574.20 424.75 L574.80 425.44 L575.40 425.53 L576.00 425.89 L576.60 426.16 L577.20 426.12 L577.80 426.44 L578.40 427.18 L579.00 427.30 L579.60 426.96 L580.20 427.35 L580.80 427.38 L581.40 427.97 L582.00 428.65 L582.60 428.39 L583.20 428.59 L583.80 429.06 L584.40 428.66 L585.00 428.68 L585.60 429.22 L586.20 429.19 L586.80 429.58 L587.40 429.68 L588.00 430.16 L588.60 430.16 L589.20 430.10 L589.80 430.22 L590.40 430.77 L591.00 430.31 L591.60 430.66 L592.20 431.04 L592.80 430.71 L593.40 430.86 L594.00 431.30 L594.60 430.97 L595.20 431.59 L595.80 431.72 L596.40 431.52 L597.00 431.53 L597.60 431.76 L598.20 432.22 L598.80 432.54 L599.40 432.88 L600.00 432.29 L600.60 432.67 L601.20 433.39 L601.80 433.18 L602.40 433.43 L603.00 434.08 L603.60 434.26 L604.20 434.43 L604.80 434.24 L605.40 433.92 L606.00 434.65 L606.60 435.07 L607.20 434.93 L607.80 434.89 L608.40 434.78" fill="none" stroke="#1a1a1a" stroke-width="1.45" stroke-linejoin="round"/>
<path d="M400.00 473.33 L400.60 473.08 L401.20 473.36 L401.80 473.18 L402.40 472.95 L403.00 472.89 L403.60 472.46 L404.20 472.05 L404.80 472.44 L405.40 472.38 L406.00 472.18 L406.60 472.39 L407.20 472.18 L407.80 471.33 L408.40 471.29 L409.00 471.92 L409.60 471.74 L410.20 470.82 L410.80 470.35 L411.40 470.34 L412.00 470.17 L412.60 469.85 L413.20 469.95 L413.80 469.55 L414.40 469.50 L415.00 469.86 L415.60 469.48 L416.20 469.42 L416.80 469.56 L417.40 469.41 L418.00 468.93 L418.60 468.67 L419.20 468.53 L419.80 468.98 L420.40 468.54 L421.00 467.81 L421.60 467.87 L422.20 468.02 L422.80 467.98 L423.40 468.16 L424.00 467.77 L424.60 466.98 L425.20 466.62 L425.80 466.27 L426.40 466.43 L427.00 466.64 L427.60 466.97 L428.20 466.00 L428.80 465.01 L429.40 465.11 L430.00 465.18 L430.60 464.68 L431.20 464.52 L431.80 464.60 L432.40 464.62 L433.00 464.27 L433.60 463.96 L434.20 464.07 L434.80 463.64 L435.40 463.22 L436.00 462.81 L436.60 462.84 L437.20 462.90 L437.80 462.30 L438.40 462.41 L439.00 462.49 L439.60 462.08 L440.20 461.81 L440.80 461.49 L441.40 461.86 L442.00 461.73 L442.60 461.04 L443.20 460.20 L443.80 460.20 L444.40 460.75 L445.00 460.82 L445.60 460.34 L446.20 460.09 L446.80 459.45 L447.40 459.19 L448.00 459.12 L448.60 458.86 L449.20 458.35 L449.80 458.73 L450.40 458.64 L451.00 457.69 L451.60 457.34 L452.20 457.53 L452.80 457.01 L453.40 456.50 L454.00 457.02 L454.60 456.87 L455.20 456.67 L455.80 456.98 L456.40 456.34 L457.00 455.74 L457.60 455.59 L458.20 455.14 L458.80 455.01 L459.40 455.08 L460.00 454.70 L460.60 454.64 L461.20 454.98 L461.80 454.73 L462.40 454.38 L463.00 454.06 L463.60 453.89 L464.20 453.80 L464.80 453.40 L465.40 453.26 L466.00 452.44 L466.60 452.00 L467.20 451.57 L467.80 451.55 L468.40 451.69 L469.00 451.56 L469.60 450.85 L470.20 450.54 L470.80 450.21 L471.40 449.78 L472.00 449.51 L472.60 449.46 L473.20 449.03 L473.80 449.28 L474.40 449.27 L475.00 448.87 L475.60 448.51 L476.20 448.60 L476.80 449.23 L477.40 448.73 L478.00 449.20 L478.60 449.03 L479.20 448.41 L479.80 448.24 L480.40 449.08 L481.00 449.29 L481.60 448.46 L482.20 448.57 L482.80 449.10 L483.40 449.25 L484.00 449.51 L484.60 448.97 L485.20 448.91 L485.80 448.87 L486.40 449.59 L487.00 448.88 L487.60 448.35 L488.20 449.00 L488.80 449.58 L489.40 450.12 L490.00 449.76 L490.60 449.84 L491.20 450.35 L491.80 450.74 L492.40 450.65 L493.00 450.98 L493.60 451.07 L494.20 451.06 L494.80 451.40 L495.40 451.73 L496.00 452.07 L496.60 452.67 L497.20 452.66 L497.80 453.36 L498.40 453.51 L499.00 452.99 L499.60 452.66 L500.20 452.87 L500.80 453.25 L501.40 453.39 L502.00 453.34 L502.60 453.35 L503.20 452.94 L503.80 453.02 L505.20 452.94 L505.80 453.35 L506.40 453.34 L507.00 453.39 L507.60 453.25 L508.20 452.87 L508.80 452.66 L509.40 452.99 L510.00 453.51 L510.60 453.36 L511.20 452.66 L511.80 452.67 L512.40 452.07 L513.00 451.73 L513.60 451.40 L514.20 451.06 L514.80 451.07 L515.40 450.98 L516.00 450.65 L516.60 450.74 L517.20 450.35 L517.80 449.84 L518.40 449.76 L519.00 450.12 L519.60 449.58 L520.20 449.00 L520.80 448.35 L521.40 448.88 L522.00 449.59 L522.60 448.87 L523.20 448.91 L523.80 448.97 L524.40 449.51 L525.00 449.25 L525.60 449.10 L526.20 448.57 L526.80 448.46 L527.40 449.29 L528.00 449.08 L528.60 448.24 L529.20 448.41 L529.80 449.03 L530.40 449.20 L531.00 448.73 L531.60 449.23 L532.20 448.60 L532.80 448.51 L533.40 448.87 L534.00 449.27 L534.60 449.28 L535.20 449.03 L535.80 449.46 L536.40 449.51 L537.00 449.78 L537.60 450.21 L538.20 450.54 L538.80 450.85 L539.40 451.56 L540.00 451.69 L540.60 451.55 L541.20 451.57 L541.80 452.00 L542.40 452.44 L543.00 453.26 L543.60 453.40 L544.20 453.80 L544.80 453.89 L545.40 454.06 L546.00 454.38 L546.60 454.73 L547.20 454.98 L547.80 454.64 L548.40 454.70 L549.00 455.08 L549.60 455.01 L550.20 455.14 L550.80 455.59 L551.40 455.74 L552.00 456.34 L552.60 456.98 L553.20 456.67 L553.80 456.87 L554.40 457.02 L555.00 456.50 L555.60 457.01 L556.20 457.53 L556.80 457.34 L557.40 457.69 L558.00 458.64 L558.60 458.73 L559.20 458.35 L559.80 458.86 L560.40 459.12 L561.00 459.19 L561.60 459.45 L562.20 460.09 L562.80 460.34 L563.40 460.82 L564.00 460.75 L564.60 460.20 L565.20 460.20 L565.80 461.04 L566.40 461.73 L567.00 461.86 L567.60 461.49 L568.20 461.81 L568.80 462.08 L569.40 462.49 L570.00 462.41 L570.60 462.30 L571.20 462.90 L571.80 462.84 L572.40 462.81 L573.00 463.22 L573.60 463.64 L574.20 464.07 L574.80 463.96 L575.40 464.27 L576.00 464.62 L576.60 464.60 L577.20 464.52 L577.80 464.68 L578.40 465.18 L579.00 465.11 L579.60 465.01 L580.20 466.00 L580.80 466.97 L581.40 466.64 L582.00 466.43 L582.60 466.27 L583.20 466.62 L583.80 466.98 L584.40 467.77 L585.00 468.16 L585.60 467.98 L586.20 468.02 L586.80 467.87 L587.40 467.81 L588.00 468.54 L588.60 468.98 L589.20 468.53 L589.80 468.67 L590.40 468.93 L591.00 469.41 L591.60 469.56 L592.20 469.42 L592.80 469.48 L593.40 469.86 L594.00 469.50 L594.60 469.55 L595.20 469.95 L595.80 469.85 L596.40 470.17 L597.00 470.34 L597.60 470.35 L598.20 470.82 L598.80 471.74 L599.40 471.92 L600.00 471.29 L600.60 471.33 L601.20 472.18 L601.80 472.39 L602.40 472.18 L603.00 472.38 L603.60 472.44 L604.20 472.05 L604.80 472.46 L605.40 472.89 L606.00 472.95 L606.60 473.18 L607.20 473.36 L607.80 473.08 L608.40 473.33" fill="none" stroke="#1a1a1a" stroke-width="1.45" stroke-linejoin="round"/>
<path d="M400.00 512.13 L400.60 512.62 L401.20 512.52 L401.80 512.34 L402.40 512.68 L403.00 512.20 L403.60 511.15 L404.20 511.47 L404.80 511.47 L405.40 512.24 L406.00 512.57 L406.60 511.65 L407.20 511.36 L407.80 511.28 L408.40 511.36 L409.00 511.49 L409.60 511.37 L410.20 510.84 L410.80 511.04 L411.40 510.50 L412.00 510.60 L412.60 510.86 L413.20 510.49 L413.80 509.78 L414.40 509.57 L415.00 509.59 L415.60 509.76 L416.20 509.79 L416.80 509.17 L417.40 509.36 L418.00 509.45 L418.60 509.29 L419.20 509.22 L419.80 509.28 L420.40 508.94 L421.00 508.75 L421.60 508.66 L422.20 508.46 L422.80 507.58 L423.40 507.86 L424.00 507.53 L424.60 507.11 L425.20 506.61 L425.80 506.23 L426.40 506.39 L427.00 506.38 L427.60 506.33 L428.20 505.95 L428.80 506.34 L429.40 506.03 L430.00 505.51 L430.60 505.11 L431.20 504.81 L431.80 504.56 L432.40 504.57 L433.00 504.58 L433.60 504.26 L434.20 503.78 L434.80 503.75 L435.40 503.59 L436.00 503.84 L436.60 504.16 L437.20 503.66 L437.80 502.91 L438.40 502.23 L439.00 501.95 L439.60 501.95 L440.20 502.34 L440.80 502.03 L441.40 501.88 L442.00 501.64 L442.60 501.75 L443.20 501.84 L443.80 501.17 L444.40 500.83 L445.00 500.72 L445.60 500.82 L446.20 500.20 L446.80 499.76 L447.40 499.49 L448.00 499.47 L448.60 500.10 L449.20 500.40 L449.80 499.52 L450.40 499.50 L451.00 499.15 L451.60 498.55 L452.20 498.48 L452.80 498.34 L453.40 498.29 L454.00 498.46 L454.60 497.58 L455.20 497.69 L455.80 497.62 L456.40 497.20 L457.00 497.20 L457.60 497.22 L458.20 496.89 L458.80 496.71 L459.40 496.33 L460.00 495.67 L460.60 496.30 L461.20 496.53 L461.80 495.98 L462.40 495.38 L463.00 494.56 L463.60 494.37 L464.20 494.06 L464.80 493.94 L465.40 493.96 L466.00 493.40 L466.60 492.99 L467.20 492.44 L467.80 492.53 L468.40 492.42 L469.00 491.96 L469.60 491.87 L470.20 492.08 L470.80 491.20 L471.40 490.73 L472.00 490.78 L472.60 491.25 L473.20 491.30 L473.80 490.53 L474.40 489.85 L475.00 489.75 L475.60 489.79 L476.20 489.36 L476.80 489.63 L477.40 489.48 L478.00 488.90 L478.60 488.71 L479.20 488.61 L479.80 488.33 L480.40 487.62 L481.00 487.60 L481.60 487.07 L482.20 486.64 L482.80 486.60 L483.40 486.31 L484.00 485.79 L484.60 485.41 L485.20 485.66 L485.80 486.41 L486.40 486.57 L487.00 486.13 L487.60 485.87 L488.20 485.30 L488.80 485.25 L489.40 485.26 L490.00 484.82 L490.60 484.86 L491.20 485.28 L491.80 485.23 L492.40 485.16 L493.00 485.60 L493.60 485.77 L494.20 486.11 L494.80 485.97 L495.40 485.95 L496.00 486.19 L496.60 486.27 L497.20 486.30 L497.80 486.62 L498.40 487.17 L499.00 487.46 L499.60 487.42 L500.20 486.67 L500.80 486.85 L501.40 487.14 L502.00 487.34 L502.60 487.22 L503.20 487.32 L503.80 487.73 L505.20 487.32 L505.80 487.22 L506.40 487.34 L507.00 487.14 L507.60 486.85 L508.20 486.67 L508.80 487.42 L509.40 487.46 L510.00 487.17 L510.60 486.62 L511.20 486.30 L511.80 486.27 L512.40 486.19 L513.00 485.95 L513.60 485.97 L514.20 486.11 L514.80 485.77 L515.40 485.60 L516.00 485.16 L516.60 485.23 L517.20 485.28 L517.80 484.86 L518.40 484.82 L519.00 485.26 L519.60 485.25 L520.20 485.30 L520.80 485.87 L521.40 486.13 L522.00 486.57 L522.60 486.41 L523.20 485.66 L523.80 485.41 L524.40 485.79 L525.00 486.31 L525.60 486.60 L526.20 486.64 L526.80 487.07 L527.40 487.60 L528.00 487.62 L528.60 488.33 L529.20 488.61 L529.80 488.71 L530.40 488.90 L531.00 489.48 L531.60 489.63 L532.20 489.36 L532.80 489.79 L533.40 489.75 L534.00 489.85 L534.60 490.53 L535.20 491.30 L535.80 491.25 L536.40 490.78 L537.00 490.73 L537.60 491.20 L538.20 492.08 L538.80 491.87 L539.40 491.96 L540.00 492.42 L540.60 492.53 L541.20 492.44 L541.80 492.99 L542.40 493.40 L543.00 493.96 L543.60 493.94 L544.20 494.06 L544.80 494.37 L545.40 494.56 L546.00 495.38 L546.60 495.98 L547.20 496.53 L547.80 496.30 L548.40 495.67 L549.00 496.33 L549.60 496.71 L550.20 496.89 L550.80 497.22 L551.40 497.20 L552.00 497.20 L552.60 497.62 L553.20 497.69 L553.80 497.58 L554.40 498.46 L555.00 498.29 L555.60 498.34 L556.20 498.48 L556.80 498.55 L557.40 499.15 L558.00 499.50 L558.60 499.52 L559.20 500.40 L559.80 500.10 L560.40 499.47 L561.00 499.49 L561.60 499.76 L562.20 500.20 L562.80 500.82 L563.40 500.72 L564.00 500.83 L564.60 501.17 L565.20 501.84 L565.80 501.75 L566.40 501.64 L567.00 501.88 L567.60 502.03 L568.20 502.34 L568.80 501.95 L569.40 501.95 L570.00 502.23 L570.60 502.91 L571.20 503.66 L571.80 504.16 L572.40 503.84 L573.00 503.59 L573.60 503.75 L574.20 503.78 L574.80 504.26 L575.40 504.58 L576.00 504.57 L576.60 504.56 L577.20 504.81 L577.80 505.11 L578.40 505.51 L579.00 506.03 L579.60 506.34 L580.20 505.95 L580.80 506.33 L581.40 506.38 L582.00 506.39 L582.60 506.23 L583.20 506.61 L583.80 507.11 L584.40 507.53 L585.00 507.86 L585.60 507.58 L586.20 508.46 L586.80 508.66 L587.40 508.75 L588.00 508.94 L588.60 509.28 L589.20 509.22 L589.80 509.29 L590.40 509.45 L591.00 509.36 L591.60 509.17 L592.20 509.79 L592.80 509.76 L593.40 509.59 L594.00 509.57 L594.60 509.78 L595.20 510.49 L595.80 510.86 L596.40 510.60 L597.00 510.50 L597.60 511.04 L598.20 510.84 L598.80 511.37 L599.40 511.49 L600.00 511.36 L600.60 511.28 L601.20 511.36 L601.80 511.65 L602.40 512.57 L603.00 512.24 L603.60 511.47 L604.20 511.47 L604.80 511.15 L605.40 512.20 L606.00 512.68 L606.60 512.34 L607.20 512.52 L607.80 512.62 L608.40 512.13" fill="none" stroke="#1a1a1a" stroke-width="1.45" stroke-linejoin="round"/>
<path d="M400.00 552.63 L400.60 552.37 L401.20 552.94 L401.80 552.82 L402.40 552.29 L403.00 552.31 L403.60 552.03 L404.20 552.23 L404.80 551.80 L405.40 551.38 L406.00 551.30 L406.60 551.21 L407.20 551.37 L407.80 551.34 L408.40 551.10 L409.00 550.41 L409.60 549.59 L410.20 550.17 L410.80 550.03 L411.40 550.51 L412.00 550.82 L412.60 550.43 L413.20 550.01 L413.80 549.88 L414.40 549.74 L415.00 549.46 L415.60 549.23 L416.20 549.22 L416.80 549.62 L417.40 549.42 L418.00 549.33 L418.60 548.94 L419.20 548.74 L419.80 548.62 L420.40 548.70 L421.00 548.68 L421.60 548.28 L422.20 547.75 L422.80 547.73 L423.40 548.16 L424.00 547.63 L424.60 547.45 L425.20 547.83 L425.80 547.68 L426.40 547.20 L427.00 546.97 L427.60 547.39 L428.20 546.90 L428.80 546.50 L429.40 545.99 L430.00 545.35 L430.60 545.26 L431.20 545.66 L431.80 545.61 L432.40 545.13 L433.00 544.57 L433.60 544.33 L434.20 544.36 L434.80 544.19 L435.40 544.67 L436.00 545.00 L436.60 545.18 L437.20 544.40 L437.80 543.52 L438.40 542.82 L439.00 542.10 L439.60 542.59 L440.20 542.95 L440.80 543.12 L441.40 542.93 L442.00 542.66 L442.60 542.39 L443.20 542.37 L443.80 542.19 L444.40 541.36 L445.00 540.99 L445.60 540.87 L446.20 541.45 L446.80 541.39 L447.40 540.78 L448.00 540.06 L448.60 540.03 L449.20 539.86 L449.80 539.67 L450.40 539.48 L451.00 539.35 L451.60 539.06 L452.20 539.06 L452.80 538.73 L453.40 538.30 L454.00 538.05 L454.60 537.87 L455.20 537.89 L455.80 537.52 L456.40 537.30 L457.00 536.82 L457.60 536.44 L458.20 536.63 L458.80 536.23 L459.40 536.31 L460.00 535.98 L460.60 535.18 L461.20 535.02 L461.80 534.97 L462.40 534.67 L463.00 534.51 L463.60 534.74 L464.20 534.49 L464.80 534.28 L465.40 533.96 L466.00 533.77 L466.60 533.38 L467.20 533.34 L467.80 533.32 L468.40 532.94 L469.00 532.45 L469.60 532.11 L470.20 532.20 L470.80 532.08 L471.40 531.63 L472.00 531.31 L472.60 531.57 L473.20 531.72 L473.80 530.91 L474.40 530.56 L475.00 530.08 L475.60 529.25 L476.20 529.36 L476.80 529.29 L477.40 529.35 L478.00 528.76 L478.60 528.23 L479.20 528.08 L479.80 527.87 L480.40 527.46 L481.00 527.12 L481.60 526.61 L482.20 526.56 L482.80 526.70 L483.40 526.67 L484.00 526.09 L484.60 525.63 L485.20 525.51 L485.80 525.30 L486.40 525.13 L487.00 524.64 L487.60 524.01 L488.20 523.72 L488.80 523.47 L489.40 523.21 L490.00 522.83 L490.60 522.15 L491.20 521.55 L491.80 521.46 L492.40 521.17 L493.00 521.46 L493.60 521.30 L494.20 520.84 L494.80 521.25 L495.40 521.32 L496.00 521.11 L496.60 521.46 L497.20 521.29 L497.80 520.42 L498.40 520.79 L499.00 520.83 L499.60 520.79 L500.20 520.76 L500.80 520.20 L501.40 519.99 L502.00 519.92 L502.60 519.99 L503.20 520.08 L503.80 519.82 L505.20 520.08 L505.80 519.99 L506.40 519.92 L507.00 519.99 L507.60 520.20 L508.20 520.76 L508.80 520.79 L509.40 520.83 L510.00 520.79 L510.60 520.42 L511.20 521.29 L511.80 521.46 L512.40 521.11 L513.00 521.32 L513.60 521.25 L514.20 520.84 L514.80 521.30 L515.40 521.46 L516.00 521.17 L516.60 521.46 L517.20 521.55 L517.80 522.15 L518.40 522.83 L519.00 523.21 L519.60 523.47 L520.20 523.72 L520.80 524.01 L521.40 524.64 L522.00 525.13 L522.60 525.30 L523.20 525.51 L523.80 525.63 L524.40 526.09 L525.00 526.67 L525.60 526.70 L526.20 526.56 L526.80 526.61 L527.40 527.12 L528.00 527.46 L528.60 527.87 L529.20 528.08 L529.80 528.23 L530.40 528.76 L531.00 529.35 L531.60 529.29 L532.20 529.36 L532.80 529.25 L533.40 530.08 L534.00 530.56 L534.60 530.91 L535.20 531.72 L535.80 531.57 L536.40 531.31 L537.00 531.63 L537.60 532.08 L538.20 532.20 L538.80 532.11 L539.40 532.45 L540.00 532.94 L540.60 533.32 L541.20 533.34 L541.80 533.38 L542.40 533.77 L543.00 533.96 L543.60 534.28 L544.20 534.49 L544.80 534.74 L545.40 534.51 L546.00 534.67 L546.60 534.97 L547.20 535.02 L547.80 535.18 L548.40 535.98 L549.00 536.31 L549.60 536.23 L550.20 536.63 L550.80 536.44 L551.40 536.82 L552.00 537.30 L552.60 537.52 L553.20 537.89 L553.80 537.87 L554.40 538.05 L555.00 538.30 L555.60 538.73 L556.20 539.06 L556.80 539.06 L557.40 539.35 L558.00 539.48 L558.60 539.67 L559.20 539.86 L559.80 540.03 L560.40 540.06 L561.00 540.78 L561.60 541.39 L562.20 541.45 L562.80 540.87 L563.40 540.99 L564.00 541.36 L564.60 542.19 L565.20 542.37 L565.80 542.39 L566.40 542.66 L567.00 542.93 L567.60 543.12 L568.20 542.95 L568.80 542.59 L569.40 542.10 L570.00 542.82 L570.60 543.52 L571.20 544.40 L571.80 545.18 L572.40 545.00 L573.00 544.67 L573.60 544.19 L574.20 544.36 L574.80 544.33 L575.40 544.57 L576.00 545.13 L576.60 545.61 L577.20 545.66 L577.80 545.26 L578.40 545.35 L579.00 545.99 L579.60 546.50 L580.20 546.90 L580.80 547.39 L581.40 546.97 L582.00 547.20 L582.60 547.68 L583.20 547.83 L583.80 547.45 L584.40 547.63 L585.00 548.16 L585.60 547.73 L586.20 547.75 L586.80 548.28 L587.40 548.68 L588.00 548.70 L588.60 548.62 L589.20 548.74 L589.80 548.94 L590.40 549.33 L591.00 549.42 L591.60 549.62 L592.20 549.22 L592.80 549.23 L593.40 549.46 L594.00 549.74 L594.60 549.88 L595.20 550.01 L595.80 550.43 L596.40 550.82 L597.00 550.51 L597.60 550.03 L598.20 550.17 L598.80 549.59 L599.40 550.41 L600.00 551.10 L600.60 551.34 L601.20 551.37 L601.80 551.21 L602.40 551.30 L603.00 551.38 L603.60 551.80 L604.20 552.23 L604.80 552.03 L605.40 552.31 L606.00 552.29 L606.60 552.82 L607.20 552.94 L607.80 552.37 L608.40 552.63" fill="none" stroke="#2868a8" stroke-width="1.2" stroke-linejoin="round"/>
<path d="M400.00 592.30 L400.60 592.58 L401.20 592.50 L401.80 592.22 L402.40 591.51 L403.00 591.56 L403.60 591.74 L404.20 591.79 L404.80 591.72 L405.40 591.95 L406.00 591.68 L406.60 591.48 L407.20 591.45 L407.80 591.44 L408.40 591.18 L409.00 591.40 L409.60 591.20 L410.20 590.88 L410.80 590.74 L411.40 590.82 L412.00 590.90 L412.60 590.74 L413.20 590.47 L413.80 590.35 L414.40 590.15 L415.00 590.17 L415.60 589.50 L416.20 588.92 L416.80 589.55 L417.40 589.24 L418.00 588.64 L418.60 588.60 L419.20 588.65 L419.80 589.22 L420.40 588.64 L421.00 587.86 L421.60 588.06 L422.20 588.06 L422.80 588.21 L423.40 587.21 L424.00 586.58 L424.60 586.97 L425.20 586.90 L425.80 586.47 L426.40 586.00 L427.00 586.58 L427.60 586.68 L428.20 585.82 L428.80 586.04 L429.40 585.93 L430.00 586.27 L430.60 585.72 L431.20 585.27 L431.80 585.36 L432.40 585.01 L433.00 584.54 L433.60 584.52 L434.20 583.95 L434.80 583.63 L435.40 584.26 L436.00 583.69 L436.60 583.28 L437.20 583.16 L437.80 582.50 L438.40 582.27 L439.00 582.38 L439.60 582.35 L440.20 582.47 L440.80 582.53 L441.40 582.06 L442.00 582.03 L442.60 581.82 L443.20 581.26 L443.80 581.20 L444.40 581.01 L445.00 581.30 L445.60 581.10 L446.20 580.58 L446.80 580.08 L447.40 580.14 L448.00 580.00 L448.60 580.12 L449.20 579.76 L449.80 579.47 L450.40 579.75 L451.00 579.56 L451.60 579.13 L452.20 579.21 L452.80 578.76 L453.40 578.46 L454.00 578.32 L454.60 577.94 L455.20 577.79 L455.80 577.90 L456.40 578.26 L457.00 578.05 L457.60 577.50 L458.20 577.53 L458.80 577.05 L459.40 576.86 L460.00 576.78 L460.60 576.66 L461.20 576.81 L461.80 576.00 L462.40 575.39 L463.00 575.60 L463.60 575.13 L464.20 574.50 L464.80 573.88 L465.40 574.55 L466.00 574.65 L466.60 574.40 L467.20 574.26 L467.80 574.06 L468.40 573.46 L469.00 573.15 L469.60 572.53 L470.20 572.33 L470.80 572.40 L471.40 571.89 L472.00 571.22 L472.60 571.14 L473.20 570.75 L473.80 570.29 L474.40 570.09 L475.00 569.51 L475.60 568.82 L476.20 568.63 L476.80 568.62 L477.40 567.81 L478.00 567.52 L478.60 567.26 L479.20 566.71 L479.80 565.93 L480.40 565.55 L481.00 565.22 L481.60 564.72 L482.20 563.93 L482.80 563.31 L483.40 563.03 L484.00 562.55 L484.60 561.82 L485.20 561.13 L485.80 560.73 L486.40 560.33 L487.00 559.90 L487.60 559.20 L488.20 558.96 L488.80 558.56 L489.40 558.05 L490.00 557.95 L490.60 557.66 L491.20 557.30 L491.80 557.05 L492.40 556.48 L493.00 556.53 L493.60 556.63 L494.20 556.56 L494.80 556.40 L495.40 555.56 L496.00 555.25 L496.60 555.72 L497.20 556.12 L497.80 556.53 L498.40 555.96 L499.00 555.39 L499.60 555.60 L500.20 555.08 L500.80 555.12 L501.40 556.29 L502.00 555.98 L502.60 555.80 L503.20 555.95 L503.80 556.18 L505.20 555.95 L505.80 555.80 L506.40 555.98 L507.00 556.29 L507.60 555.12 L508.20 555.08 L508.80 555.60 L509.40 555.39 L510.00 555.96 L510.60 556.53 L511.20 556.12 L511.80 555.72 L512.40 555.25 L513.00 555.56 L513.60 556.40 L514.20 556.56 L514.80 556.63 L515.40 556.53 L516.00 556.48 L516.60 557.05 L517.20 557.30 L517.80 557.66 L518.40 557.95 L519.00 558.05 L519.60 558.56 L520.20 558.96 L520.80 559.20 L521.40 559.90 L522.00 560.33 L522.60 560.73 L523.20 561.13 L523.80 561.82 L524.40 562.55 L525.00 563.03 L525.60 563.31 L526.20 563.93 L526.80 564.72 L527.40 565.22 L528.00 565.55 L528.60 565.93 L529.20 566.71 L529.80 567.26 L530.40 567.52 L531.00 567.81 L531.60 568.62 L532.20 568.63 L532.80 568.82 L533.40 569.51 L534.00 570.09 L534.60 570.29 L535.20 570.75 L535.80 571.14 L536.40 571.22 L537.00 571.89 L537.60 572.40 L538.20 572.33 L538.80 572.53 L539.40 573.15 L540.00 573.46 L540.60 574.06 L541.20 574.26 L541.80 574.40 L542.40 574.65 L543.00 574.55 L543.60 573.88 L544.20 574.50 L544.80 575.13 L545.40 575.60 L546.00 575.39 L546.60 576.00 L547.20 576.81 L547.80 576.66 L548.40 576.78 L549.00 576.86 L549.60 577.05 L550.20 577.53 L550.80 577.50 L551.40 578.05 L552.00 578.26 L552.60 577.90 L553.20 577.79 L553.80 577.94 L554.40 578.32 L555.00 578.46 L555.60 578.76 L556.20 579.21 L556.80 579.13 L557.40 579.56 L558.00 579.75 L558.60 579.47 L559.20 579.76 L559.80 580.12 L560.40 580.00 L561.00 580.14 L561.60 580.08 L562.20 580.58 L562.80 581.10 L563.40 581.30 L564.00 581.01 L564.60 581.20 L565.20 581.26 L565.80 581.82 L566.40 582.03 L567.00 582.06 L567.60 582.53 L568.20 582.47 L568.80 582.35 L569.40 582.38 L570.00 582.27 L570.60 582.50 L571.20 583.16 L571.80 583.28 L572.40 583.69 L573.00 584.26 L573.60 583.63 L574.20 583.95 L574.80 584.52 L575.40 584.54 L576.00 585.01 L576.60 585.36 L577.20 585.27 L577.80 585.72 L578.40 586.27 L579.00 585.93 L579.60 586.04 L580.20 585.82 L580.80 586.68 L581.40 586.58 L582.00 586.00 L582.60 586.47 L583.20 586.90 L583.80 586.97 L584.40 586.58 L585.00 587.21 L585.60 588.21 L586.20 588.06 L586.80 588.06 L587.40 587.86 L588.00 588.64 L588.60 589.22 L589.20 588.65 L589.80 588.60 L590.40 588.64 L591.00 589.24 L591.60 589.55 L592.20 588.92 L592.80 589.50 L593.40 590.17 L594.00 590.15 L594.60 590.35 L595.20 590.47 L595.80 590.74 L596.40 590.90 L597.00 590.82 L597.60 590.74 L598.20 590.88 L598.80 591.20 L599.40 591.40 L600.00 591.18 L600.60 591.44 L601.20 591.45 L601.80 591.48 L602.40 591.68 L603.00 591.95 L603.60 591.72 L604.20 591.79 L604.80 591.74 L605.40 591.56 L606.00 591.51 L606.60 592.22 L607.20 592.50 L607.80 592.58 L608.40 592.30" fill="none" stroke="#1a1a1a" stroke-width="1.45" stroke-linejoin="round"/>
<path d="M400.00 633.44 L400.60 633.43 L401.20 632.61 L401.80 632.44 L402.40 633.26 L403.00 633.37 L403.60 632.89 L404.20 632.56 L404.80 632.28 L405.40 632.11 L406.00 632.53 L406.60 632.33 L407.20 632.03 L407.80 631.91 L408.40 631.91 L409.00 631.69 L409.60 631.35 L410.20 630.78 L410.80 631.16 L411.40 631.45 L412.00 630.63 L412.60 630.42 L413.20 630.64 L413.80 630.58 L414.40 630.07 L415.00 629.37 L415.60 629.47 L416.20 629.03 L416.80 628.94 L417.40 629.15 L418.00 628.95 L418.60 629.26 L419.20 629.65 L419.80 628.94 L420.40 628.31 L421.00 627.63 L421.60 627.28 L422.20 627.02 L422.80 626.86 L423.40 626.57 L424.00 626.46 L424.60 626.34 L425.20 625.88 L425.80 625.45 L426.40 625.38 L427.00 625.67 L427.60 625.61 L428.20 625.64 L428.80 625.39 L429.40 624.86 L430.00 624.60 L430.60 624.23 L431.20 624.84 L431.80 624.55 L432.40 623.71 L433.00 623.23 L433.60 623.20 L434.20 622.58 L434.80 622.67 L435.40 623.02 L436.00 622.73 L436.60 622.46 L437.20 622.48 L437.80 621.97 L438.40 621.92 L439.00 621.61 L439.60 621.39 L440.20 621.45 L440.80 621.26 L441.40 621.60 L442.00 621.22 L442.60 621.28 L443.20 620.57 L443.80 620.42 L444.40 619.84 L445.00 619.58 L445.60 619.92 L446.20 619.85 L446.80 619.36 L447.40 619.53 L448.00 619.07 L448.60 618.98 L449.20 618.96 L449.80 618.60 L450.40 618.03 L451.00 618.49 L451.60 618.18 L452.20 617.49 L452.80 616.92 L453.40 616.46 L454.00 616.43 L454.60 616.67 L455.20 616.27 L455.80 615.76 L456.40 615.79 L457.00 616.00 L457.60 615.38 L458.20 615.05 L458.80 615.23 L459.40 614.86 L460.00 614.34 L460.60 613.77 L461.20 613.21 L461.80 613.05 L462.40 613.06 L463.00 613.02 L463.60 613.00 L464.20 612.85 L464.80 612.55 L465.40 612.17 L466.00 611.46 L466.60 610.93 L467.20 611.03 L467.80 610.86 L468.40 610.71 L469.00 610.51 L469.60 610.03 L470.20 609.81 L470.80 609.86 L471.40 609.66 L472.00 609.28 L472.60 609.15 L473.20 608.67 L473.80 608.16 L474.40 608.17 L475.00 608.14 L475.60 607.45 L476.20 607.33 L476.80 607.15 L477.40 606.62 L478.00 605.92 L478.60 605.85 L479.20 605.20 L479.80 604.57 L480.40 604.20 L481.00 603.90 L481.60 603.37 L482.20 602.91 L482.80 602.56 L483.40 601.76 L484.00 601.20 L484.60 601.06 L485.20 600.73 L485.80 600.22 L486.40 599.51 L487.00 599.41 L487.60 599.18 L488.20 598.86 L488.80 598.00 L489.40 597.74 L490.00 597.31 L490.60 596.68 L491.20 596.66 L491.80 596.79 L492.40 596.21 L493.00 595.84 L493.60 595.95 L494.20 595.80 L494.80 595.34 L495.40 594.63 L496.00 594.47 L496.60 594.42 L497.20 593.79 L497.80 593.54 L498.40 593.95 L499.00 593.92 L499.60 592.79 L500.20 591.99 L500.80 592.12 L501.40 592.37 L502.00 592.70 L502.60 592.90 L503.20 592.58 L503.80 592.33 L505.20 592.58 L505.80 592.90 L506.40 592.70 L507.00 592.37 L507.60 592.12 L508.20 591.99 L508.80 592.79 L509.40 593.92 L510.00 593.95 L510.60 593.54 L511.20 593.79 L511.80 594.42 L512.40 594.47 L513.00 594.63 L513.60 595.34 L514.20 595.80 L514.80 595.95 L515.40 595.84 L516.00 596.21 L516.60 596.79 L517.20 596.66 L517.80 596.68 L518.40 597.31 L519.00 597.74 L519.60 598.00 L520.20 598.86 L520.80 599.18 L521.40 599.41 L522.00 599.51 L522.60 600.22 L523.20 600.73 L523.80 601.06 L524.40 601.20 L525.00 601.76 L525.60 602.56 L526.20 602.91 L526.80 603.37 L527.40 603.90 L528.00 604.20 L528.60 604.57 L529.20 605.20 L529.80 605.85 L530.40 605.92 L531.00 606.62 L531.60 607.15 L532.20 607.33 L532.80 607.45 L533.40 608.14 L534.00 608.17 L534.60 608.16 L535.20 608.67 L535.80 609.15 L536.40 609.28 L537.00 609.66 L537.60 609.86 L538.20 609.81 L538.80 610.03 L539.40 610.51 L540.00 610.71 L540.60 610.86 L541.20 611.03 L541.80 610.93 L542.40 611.46 L543.00 612.17 L543.60 612.55 L544.20 612.85 L544.80 613.00 L545.40 613.02 L546.00 613.06 L546.60 613.05 L547.20 613.21 L547.80 613.77 L548.40 614.34 L549.00 614.86 L549.60 615.23 L550.20 615.05 L550.80 615.38 L551.40 616.00 L552.00 615.79 L552.60 615.76 L553.20 616.27 L553.80 616.67 L554.40 616.43 L555.00 616.46 L555.60 616.92 L556.20 617.49 L556.80 618.18 L557.40 618.49 L558.00 618.03 L558.60 618.60 L559.20 618.96 L559.80 618.98 L560.40 619.07 L561.00 619.53 L561.60 619.36 L562.20 619.85 L562.80 619.92 L563.40 619.58 L564.00 619.84 L564.60 620.42 L565.20 620.57 L565.80 621.28 L566.40 621.22 L567.00 621.60 L567.60 621.26 L568.20 621.45 L568.80 621.39 L569.40 621.61 L570.00 621.92 L570.60 621.97 L571.20 622.48 L571.80 622.46 L572.40 622.73 L573.00 623.02 L573.60 622.67 L574.20 622.58 L574.80 623.20 L575.40 623.23 L576.00 623.71 L576.60 624.55 L577.20 624.84 L577.80 624.23 L578.40 624.60 L579.00 624.86 L579.60 625.39 L580.20 625.64 L580.80 625.61 L581.40 625.67 L582.00 625.38 L582.60 625.45 L583.20 625.88 L583.80 626.34 L584.40 626.46 L585.00 626.57 L585.60 626.86 L586.20 627.02 L586.80 627.28 L587.40 627.63 L588.00 628.31 L588.60 628.94 L589.20 629.65 L589.80 629.26 L590.40 628.95 L591.00 629.15 L591.60 628.94 L592.20 629.03 L592.80 629.47 L593.40 629.37 L594.00 630.07 L594.60 630.58 L595.20 630.64 L595.80 630.42 L596.40 630.63 L597.00 631.45 L597.60 631.16 L598.20 630.78 L598.80 631.35 L599.40 631.69 L600.00 631.91 L600.60 631.91 L601.20 632.03 L601.80 632.33 L602.40 632.53 L603.00 632.11 L603.60 632.28 L604.20 632.56 L604.80 632.89 L605.40 633.37 L606.00 633.26 L606.60 632.44 L607.20 632.61 L607.80 633.43 L608.40 633.44" fill="none" stroke="#1a1a1a" stroke-width="1.45" stroke-linejoin="round"/>
<line x1="482.40" y1="317.0" x2="482.40" y2="332.0" stroke="#222" stroke-width="1.3"/>
<line x1="526.00" y1="317.0" x2="526.00" y2="332.0" stroke="#222" stroke-width="1.3"/>
<line x1="482.40" y1="361.5" x2="482.40" y2="376.5" stroke="#222" stroke-width="1.3"/>
<line x1="526.00" y1="361.5" x2="526.00" y2="376.5" stroke="#222" stroke-width="1.3"/>
<line x1="484.30" y1="403.0" x2="484.30" y2="418.0" stroke="#222" stroke-width="1.3"/>
<line x1="524.10" y1="403.0" x2="524.10" y2="418.0" stroke="#222" stroke-width="1.3"/>
<line x1="488.70" y1="443.1" x2="488.70" y2="458.1" stroke="#222" stroke-width="1.3"/>
<line x1="519.70" y1="443.1" x2="519.70" y2="458.1" stroke="#222" stroke-width="1.3"/>
<line x1="494.30" y1="478.1" x2="494.30" y2="493.1" stroke="#222" stroke-width="1.3"/>
<line x1="514.10" y1="478.1" x2="514.10" y2="493.1" stroke="#222" stroke-width="1.3"/>
<line x1="504.2" y1="509.5" x2="504.2" y2="528" stroke="#222" stroke-width="1.3"/>
<text x="616.3" y="205.8" font-size="17" fill="#333" textLength="57.4" lengthAdjust="spacingAndGlyphs"><tspan font-style="italic">T</tspan> = 12 K</text>
<text x="615.2" y="245.0" font-size="17" fill="#333" textLength="35.9" lengthAdjust="spacingAndGlyphs">40 K</text>
<text x="615.4" y="283.8" font-size="17" fill="#333" textLength="35.3" lengthAdjust="spacingAndGlyphs">60 K</text>
<text x="615.4" y="321.1" font-size="17" fill="#333" textLength="35.3" lengthAdjust="spacingAndGlyphs">80 K</text>
<text x="615.0" y="402.5" font-size="17" fill="#333" textLength="40.6" lengthAdjust="spacingAndGlyphs">120 K</text>
<text x="615.2" y="440.5" font-size="17" fill="#333" textLength="41.0" lengthAdjust="spacingAndGlyphs">150 K</text>
<text x="615.2" y="480.6" font-size="17" fill="#333" textLength="41.0" lengthAdjust="spacingAndGlyphs">170 K</text>
<text x="615.0" y="520.9" font-size="17" fill="#333" textLength="41.8" lengthAdjust="spacingAndGlyphs">190 K</text>
<text x="616.2" y="559.3" font-size="17" fill="#2b8fd0" textLength="66.5" lengthAdjust="spacingAndGlyphs"><tspan font-style="italic">T</tspan>*~210 K</text>
<text x="615.0" y="638.2" font-size="17" fill="#333" textLength="45.2" lengthAdjust="spacingAndGlyphs">240 K</text>
<text x="615.8" y="360.8" font-size="17" fill="#6f9f52">~<tspan font-style="italic">T</tspan><tspan font-size="11.5" dy="5.5">c</tspan></text>
</svg>
</body></html>
